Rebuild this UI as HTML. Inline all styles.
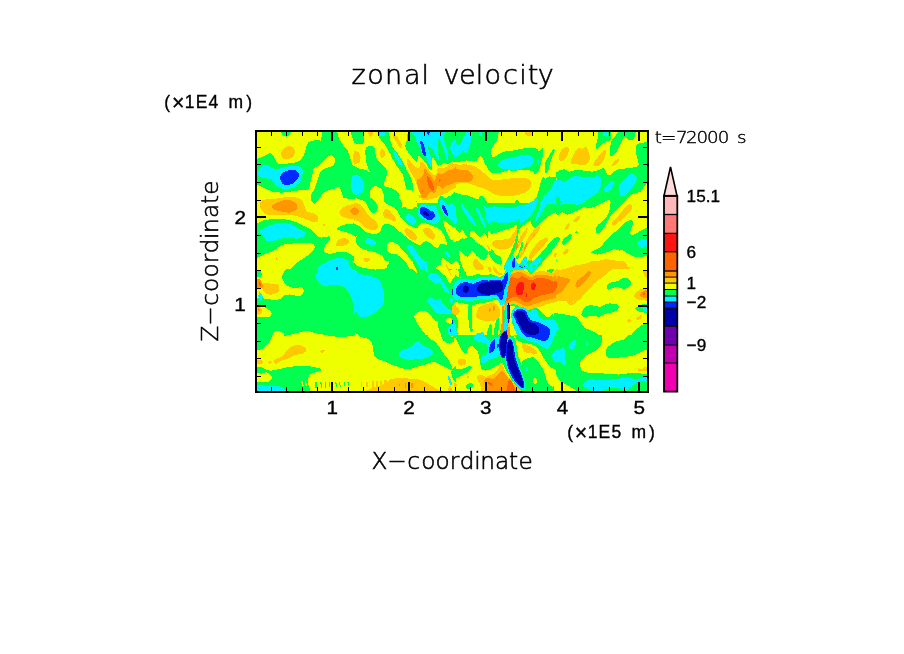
<!DOCTYPE html>
<html><head><meta charset="utf-8"><title>zonal velocity</title>
<style>
html,body{margin:0;padding:0;background:#fff}
svg{display:block}
.thin{font-family:"DejaVu Sans Light","Liberation Sans",sans-serif;fill:#000;stroke:#000}
.reg{font-family:"Liberation Sans",sans-serif;fill:#000;stroke:#000;stroke-width:.35px}
</style></head>
<body>
<svg width="904" height="654" viewBox="0 0 904 654">
<rect width="904" height="654" fill="#fff"/>
<defs><clipPath id="pc"><rect x="256" y="131" width="392" height="261"/></clipPath></defs>
<g clip-path="url(#pc)" shape-rendering="crispEdges">
<rect x="255" y="130" width="394" height="263" fill="#00ff50"/>
<path fill="#f0ff00" d="M251.7 126.7C263.3 121.6 309.8 126.7 321.4 126.7C333.0 126.7 321.3 125.0 321.4 126.7C321.4 128.3 321.7 134.3 321.6 136.6C321.5 138.9 320.9 139.9 320.8 140.5C320.7 141.2 322.6 140.4 320.8 140.5C319.1 140.6 312.7 140.0 310.3 141.1C307.9 142.1 307.5 144.4 306.4 146.6C305.4 148.8 305.4 151.9 304.2 154.3C303.0 156.7 301.6 159.5 299.2 161.0C296.9 162.4 293.9 162.7 290.4 163.2C286.9 163.6 280.9 164.7 278.2 163.7C275.6 162.8 275.6 159.4 274.4 157.7C273.1 155.9 271.9 153.7 270.5 153.2C269.1 152.8 267.7 154.2 266.1 154.9C264.4 155.6 262.9 157.3 260.5 157.7C258.1 158.0 253.2 162.3 251.7 157.1C250.2 151.9 240.1 131.8 251.7 126.7Z M251.7 186.4C253.3 180.2 258.3 186.1 261.6 187.0C265.0 187.8 268.1 190.5 271.6 191.4C275.1 192.3 278.0 192.7 282.7 192.5C287.3 192.3 295.0 190.7 299.2 190.3C303.5 189.8 306.3 190.9 308.1 189.7C309.9 188.5 309.6 185.7 310.3 183.1C311.0 180.5 312.0 176.6 312.5 174.2C313.1 171.9 312.5 170.2 313.6 168.7C314.7 167.2 317.7 166.5 319.2 165.4C320.6 164.3 321.4 163.3 322.5 162.1C323.6 160.9 324.5 159.4 325.8 158.2C327.1 157.1 328.8 155.4 330.2 155.2C331.6 155.0 333.3 156.1 334.1 157.1C334.9 158.2 335.1 160.1 334.9 161.5C334.6 163.0 333.9 164.8 332.4 166.0C330.9 167.1 327.6 167.3 325.8 168.2C324.0 169.0 322.6 169.5 321.4 170.9C320.2 172.3 319.3 174.6 318.6 176.5C317.9 178.3 317.6 180.0 316.9 182.0C316.3 184.0 315.7 186.6 314.7 188.6C313.8 190.7 312.1 192.1 311.4 194.2C310.8 196.2 310.8 199.6 310.9 200.8C311.0 202.0 311.3 201.0 312.0 201.5C312.6 202.0 313.7 203.9 314.7 203.7C315.7 203.6 316.9 201.8 318.1 200.4C319.2 199.0 319.9 196.9 321.4 195.3C322.8 193.7 324.7 191.9 326.9 190.8C329.1 189.7 332.5 189.3 334.6 188.6C336.8 188.0 338.5 186.4 339.6 187.0C340.7 187.5 340.6 190.2 341.3 191.9C341.9 193.7 342.8 196.4 343.5 197.5C344.2 198.5 344.4 197.9 345.7 198.2C347.0 198.5 349.5 199.2 351.2 199.3C353.0 199.4 355.3 198.9 356.1 198.8C356.9 198.7 356.1 194.6 356.1 198.8C356.1 202.9 356.1 219.5 356.1 223.7C356.1 227.8 357.1 223.7 356.1 223.7C355.1 223.7 352.2 223.5 350.1 223.7C348.0 223.8 345.5 224.1 343.5 224.8C341.5 225.4 339.0 226.7 338.0 227.5C337.0 228.4 336.5 229.1 337.4 229.7C338.3 230.4 341.6 230.8 343.5 231.4C345.4 232.0 346.9 232.1 349.0 233.1C351.1 234.0 354.9 236.3 356.1 236.9C357.3 237.6 356.1 233.4 356.1 236.9C356.1 240.4 356.1 254.4 356.1 257.9C356.1 261.4 356.7 258.3 356.1 257.9C355.5 257.6 353.9 256.7 352.3 255.7C350.8 254.8 349.0 253.1 346.8 252.4C344.6 251.8 341.5 251.7 339.1 251.9C336.7 252.0 334.6 253.3 332.4 253.5C330.2 253.7 327.3 253.7 325.8 253.0C324.3 252.2 323.6 250.5 323.6 249.1C323.6 247.7 324.8 246.1 325.8 244.7C326.8 243.2 328.8 241.6 329.3 240.2C329.9 238.9 330.4 236.8 329.1 236.4C327.8 235.9 323.6 237.8 321.4 237.5C319.2 237.2 317.7 236.1 315.8 234.7C314.0 233.3 312.7 230.8 310.3 229.2C307.9 227.5 304.4 226.1 301.5 224.8C298.5 223.4 295.7 221.8 292.6 220.9C289.5 219.9 286.2 219.3 282.7 219.0C279.2 218.7 275.1 218.9 271.6 219.2C268.1 219.5 264.0 220.2 261.6 220.9C259.2 221.6 258.9 223.1 257.2 223.7C255.6 224.2 252.6 224.1 251.7 224.2C250.8 224.3 251.7 230.5 251.7 224.2C251.7 217.9 250.0 192.6 251.7 186.4Z M378.2 126.7C385.2 126.7 378.1 125.0 378.2 126.7C378.3 128.3 377.9 133.9 378.8 136.6C379.7 139.4 382.2 141.1 383.8 143.3C385.3 145.5 386.7 147.3 388.2 149.9C389.7 152.5 391.1 156.0 392.6 158.8C394.1 161.5 395.4 163.9 397.0 166.5C398.7 169.1 401.3 171.7 402.6 174.2C403.9 176.8 404.0 179.4 404.8 182.0C405.5 184.6 405.6 188.3 407.0 189.7C408.4 191.2 411.8 189.9 413.1 190.8C414.4 191.8 414.2 193.6 414.7 195.3C415.3 196.9 416.0 198.8 416.4 200.8C416.8 202.8 416.9 206.3 416.9 207.4C417.0 208.5 419.3 207.4 416.9 207.4C414.6 207.4 405.0 207.4 402.6 207.4C400.2 207.4 402.8 208.5 402.6 207.4C402.4 206.3 402.0 203.0 401.5 200.8C400.9 198.6 400.4 196.0 399.2 194.2C398.1 192.3 396.5 190.8 394.8 189.7C393.2 188.6 391.0 188.1 389.3 187.5C387.6 187.0 385.7 187.3 384.9 186.4C384.0 185.5 384.1 183.5 384.3 182.0C384.5 180.5 385.5 179.2 386.0 177.6C386.4 175.9 387.2 173.7 387.1 172.0C387.0 170.4 386.3 168.9 385.4 167.6C384.5 166.3 382.9 165.6 381.5 164.3C380.2 163.0 378.1 161.5 377.1 159.9C376.1 158.2 375.9 156.4 375.5 154.3C375.0 152.3 375.2 149.1 374.4 147.7C373.5 146.3 371.8 146.1 370.5 146.0C369.2 145.9 367.4 146.5 366.6 147.1C365.8 147.8 365.7 148.5 365.5 149.9C365.3 151.3 365.3 153.2 365.5 155.4C365.7 157.7 366.2 161.0 366.6 163.2C367.1 165.4 367.7 167.1 368.3 168.7C368.8 170.3 370.3 172.4 369.9 172.6C369.6 172.8 367.8 170.7 366.1 170.0C364.3 169.4 361.3 169.3 359.4 168.7C357.6 168.1 356.2 167.2 355.0 166.5C353.8 165.8 353.2 165.8 352.3 164.3C351.5 162.8 350.9 159.9 350.1 157.7C349.4 155.4 349.0 153.0 347.9 151.0C346.8 149.0 345.0 147.5 343.5 145.5C342.0 143.5 340.3 142.0 339.1 138.8C337.9 135.7 336.8 128.7 336.3 126.7C335.8 124.7 329.3 126.7 336.3 126.7C343.3 126.7 371.2 126.7 378.2 126.7Z M408.1 126.7C411.4 126.7 408.3 124.7 408.1 126.7C407.9 128.7 407.5 135.5 407.0 138.8C406.5 142.2 405.1 144.4 405.3 146.6C405.5 148.8 406.7 150.1 408.1 152.1C409.5 154.2 412.2 157.2 413.6 158.8C415.1 160.3 416.1 162.1 416.9 161.5C417.8 161.0 417.9 156.1 418.6 155.4C419.3 154.8 420.2 156.4 421.4 157.7C422.6 158.9 424.2 161.1 425.8 163.2C427.4 165.3 429.7 170.2 430.8 170.4C431.9 170.6 432.2 166.4 432.4 164.3C432.7 162.2 432.1 158.4 432.4 157.7C432.8 156.9 433.7 158.6 434.6 159.9C435.6 161.2 436.7 164.7 438.0 165.4C439.3 166.1 441.3 164.8 442.4 164.3C443.5 163.8 443.7 162.6 444.6 162.6C445.5 162.6 446.6 164.5 447.9 164.3C449.2 164.1 451.0 161.8 452.3 161.5C453.7 161.2 455.5 162.4 456.1 162.6C456.7 162.8 456.1 157.8 456.1 162.6C456.1 167.4 456.1 186.6 456.1 191.4C456.1 196.2 456.3 191.3 456.1 191.4C455.9 191.5 456.2 191.1 455.0 191.9C453.8 192.8 450.9 195.8 449.0 196.4C447.1 196.9 445.2 195.1 443.5 195.3C441.8 195.4 440.0 196.4 439.1 197.5C438.1 198.6 438.1 201.2 438.0 202.0C437.8 202.8 438.0 202.4 438.0 202.5C438.0 202.5 441.5 202.5 438.0 202.5C434.5 202.5 420.4 202.5 416.9 202.5C413.4 202.5 417.0 202.7 416.9 202.5C416.9 202.2 416.8 202.0 416.4 200.8C416.0 199.6 415.3 196.9 414.7 195.3C414.2 193.6 413.4 192.5 413.1 190.8C412.8 189.2 413.5 187.7 413.1 185.3C412.6 182.9 411.3 178.9 410.3 176.5C409.3 174.1 408.1 173.1 407.0 170.9C405.9 168.7 405.0 165.8 403.7 163.2C402.4 160.6 400.9 157.8 399.2 155.4C397.6 153.0 395.2 151.2 393.7 148.8C392.2 146.4 391.3 144.7 390.4 141.1C389.5 137.4 388.6 129.1 388.2 126.7C387.8 124.3 384.9 126.7 388.2 126.7C391.5 126.7 404.8 126.7 408.1 126.7Z M556.1 126.7C565.6 126.7 556.1 118.2 556.1 126.7C556.1 135.2 556.1 169.1 556.1 177.6C556.1 186.0 557.3 177.8 556.1 177.6C554.9 177.4 550.8 176.3 549.0 176.5C547.3 176.6 546.6 178.6 545.7 178.7C544.8 178.8 544.2 176.6 543.5 177.0C542.8 177.4 542.0 178.9 541.3 180.9C540.5 182.8 539.8 186.0 539.1 188.6C538.3 191.2 537.6 194.1 536.9 196.4C536.1 198.6 535.0 201.0 534.6 202.0C534.3 203.0 534.6 202.4 534.6 202.5C534.6 202.5 542.6 202.5 534.6 202.5C526.7 202.5 495.0 202.5 487.1 202.5C479.2 202.5 487.1 202.5 487.1 202.5C487.1 202.4 487.6 202.8 487.1 202.0C486.5 201.2 484.9 198.6 483.8 197.5C482.7 196.4 481.5 194.9 480.4 195.3C479.3 195.6 478.4 199.5 477.1 199.7C475.8 199.9 474.5 197.1 472.7 196.4C470.9 195.6 468.3 195.6 466.1 195.3C463.8 194.9 461.5 194.7 459.4 194.2C457.4 193.6 454.8 192.3 453.9 191.9C453.0 191.6 453.9 196.9 453.9 191.9C453.9 187.0 453.9 167.1 453.9 162.1C453.9 157.1 453.0 162.1 453.9 162.1C454.8 162.1 457.4 162.4 459.4 162.1C461.5 161.8 463.5 160.5 466.1 160.4C468.6 160.3 472.9 161.8 474.9 161.5C476.9 161.2 477.2 159.7 478.2 158.8C479.2 157.8 480.1 155.6 481.0 156.0C481.9 156.4 482.7 159.0 483.8 161.0C484.8 162.9 485.8 165.7 487.1 167.6C488.4 169.5 489.8 171.7 491.5 172.6C493.2 173.5 495.2 173.2 497.0 173.1C498.9 173.0 500.7 172.5 502.6 172.0C504.4 171.6 506.1 170.6 508.1 170.4C510.1 170.2 512.5 171.0 514.7 170.9C516.9 170.8 518.4 169.8 521.4 169.8C524.3 169.8 530.2 170.3 532.4 170.9C534.6 171.6 533.7 173.5 534.6 173.7C535.6 173.9 537.0 173.2 538.0 172.0C538.9 170.8 539.4 168.9 540.2 166.5C540.9 164.1 541.8 160.4 542.4 157.7C542.9 154.9 543.5 151.6 543.5 149.9C543.5 148.3 543.1 147.4 542.4 147.7C541.7 148.0 540.0 151.4 539.1 151.6C538.1 151.8 538.3 149.5 536.9 148.8C535.4 148.2 532.8 147.7 530.2 147.7C527.6 147.7 524.3 148.3 521.4 148.8C518.4 149.3 515.3 150.0 512.5 150.5C509.8 150.9 507.0 151.0 504.8 151.6C502.6 152.1 500.7 153.0 499.2 153.8C497.8 154.5 497.1 155.5 495.9 156.0C494.7 156.5 492.9 157.5 492.1 156.5C491.2 155.6 490.7 152.3 491.0 150.5C491.2 148.6 492.6 147.4 493.7 145.5C494.8 143.6 496.7 142.0 497.6 138.8C498.5 135.7 499.0 128.7 499.2 126.7C499.5 124.7 489.8 126.7 499.2 126.7C508.7 126.7 546.6 126.7 556.1 126.7Z M650.1 126.7C666.2 126.7 650.1 124.1 650.1 126.7C650.1 129.3 650.1 139.6 650.1 142.2C650.1 144.7 651.4 142.1 650.1 142.2C648.8 142.3 644.6 142.4 642.4 142.7C640.2 143.1 638.0 143.2 636.9 144.4C635.8 145.6 635.7 147.5 635.8 149.9C635.8 152.3 637.0 156.2 637.4 158.8C637.9 161.3 639.3 163.9 638.5 165.4C637.7 166.9 634.9 167.1 632.4 167.6C629.9 168.2 626.2 168.3 623.6 168.7C621.0 169.1 618.8 169.1 616.9 169.8C615.1 170.6 613.8 172.2 612.5 173.1C611.2 174.1 610.1 175.2 609.2 175.4C608.3 175.5 607.9 175.4 607.0 174.2C606.1 173.0 605.0 168.9 603.7 168.2C602.4 167.4 601.1 169.3 599.2 169.8C597.4 170.4 594.8 171.3 592.6 171.5C590.4 171.7 588.6 171.2 586.0 170.9C583.4 170.7 579.9 169.7 577.1 169.8C574.4 169.9 571.4 171.6 569.4 171.5C567.4 171.4 566.8 169.4 565.0 169.3C563.1 169.2 560.2 169.9 558.3 170.9C556.5 171.9 554.6 174.6 553.9 175.4C553.2 176.1 553.9 183.5 553.9 175.4C553.9 167.2 553.9 134.8 553.9 126.7C553.9 118.6 537.9 126.7 553.9 126.7C569.9 126.7 634.1 126.7 650.1 126.7Z M650.1 204.1C650.1 207.8 654.6 204.1 650.1 204.1C645.7 204.1 628.0 204.1 623.6 204.1C619.2 204.1 623.0 205.0 623.6 204.1C624.1 203.2 625.4 200.2 626.9 198.6C628.4 196.9 630.2 195.3 632.4 194.2C634.6 193.1 638.3 193.1 640.2 191.9C642.0 190.8 642.3 189.0 643.5 187.5C644.7 186.0 646.3 184.0 647.4 183.1C648.5 182.2 649.7 182.2 650.1 182.0C650.6 181.8 650.1 178.3 650.1 182.0C650.1 185.7 650.1 200.4 650.1 204.1Z M606.4 203.0C606.1 202.5 607.9 200.2 608.7 200.2C609.4 200.2 611.2 202.5 610.9 203.0C610.5 203.5 606.8 203.5 606.4 203.0Z M353.9 199.9C355.0 196.1 358.7 199.6 360.5 199.9C362.4 200.1 363.8 200.5 365.0 201.5C366.2 202.5 367.0 204.5 367.7 206.0C368.5 207.4 368.4 209.2 369.4 210.4C370.4 211.6 372.5 213.1 373.8 213.1C375.1 213.1 376.5 211.6 377.1 210.4C377.8 209.2 378.0 207.4 377.7 206.0C377.3 204.5 375.9 202.8 374.9 201.5C373.9 200.2 372.4 199.1 371.6 198.2C370.8 197.4 370.1 197.8 369.9 196.4C369.7 195.0 369.7 191.4 370.5 189.7C371.2 188.1 372.9 186.8 374.4 186.4C375.8 186.0 377.9 186.6 379.3 187.5C380.8 188.4 382.5 190.1 383.2 191.9C383.9 193.8 383.6 197.2 383.8 198.6C383.9 200.0 383.6 199.6 384.0 200.4C384.4 201.3 384.7 202.8 386.0 203.7C387.2 204.7 389.7 204.8 391.5 206.0C393.3 207.1 395.7 208.9 397.0 210.4C398.3 211.9 398.3 213.3 399.2 214.8C400.2 216.3 401.3 217.8 402.6 219.2C403.9 220.7 405.3 222.4 407.0 223.7C408.7 224.9 410.9 226.2 412.5 227.0C414.2 227.7 415.8 228.4 416.9 228.1C418.1 227.8 418.4 226.1 419.2 225.3C419.9 224.5 420.1 223.4 421.4 223.1C422.7 222.8 425.1 223.2 426.9 223.7C428.7 224.1 430.6 225.1 432.4 225.9C434.3 226.6 436.3 227.0 438.0 228.1C439.6 229.2 441.1 230.7 442.4 232.5C443.7 234.3 444.9 236.9 445.7 239.1C446.5 241.4 447.7 245.0 447.4 245.8C447.0 246.5 444.7 243.8 443.5 243.6C442.3 243.4 441.3 243.9 440.2 244.7C439.1 245.4 438.1 248.0 436.9 248.0C435.6 248.0 434.1 245.8 432.4 244.7C430.8 243.6 428.6 241.7 426.9 241.4C425.2 241.0 423.6 241.8 422.5 242.5C421.4 243.1 421.4 245.0 420.3 245.2C419.2 245.4 417.5 244.4 415.8 243.6C414.2 242.7 412.2 241.5 410.3 240.2C408.5 239.0 406.6 237.3 404.8 235.8C402.9 234.3 400.9 232.9 399.2 231.4C397.6 229.9 396.5 228.2 394.8 227.0C393.2 225.8 391.1 224.7 389.3 224.2C387.4 223.7 385.1 223.6 383.8 224.2C382.5 224.9 382.4 226.6 381.5 228.1C380.7 229.6 380.4 232.1 378.8 233.1C377.1 234.0 373.9 233.9 371.6 233.6C369.3 233.3 366.8 232.5 365.0 231.4C363.1 230.3 362.4 228.4 360.5 227.0C358.7 225.5 355.0 223.3 353.9 222.5C352.8 221.8 353.9 226.3 353.9 222.5C353.9 218.8 352.8 203.7 353.9 199.9Z M439.6 194.9C445.9 195.3 439.5 196.1 439.1 197.1C438.6 198.1 438.3 200.2 436.9 201.0C435.4 201.7 432.4 201.5 430.2 201.5C428.0 201.5 425.6 201.2 423.6 201.0C421.6 200.8 419.3 200.1 418.1 200.4C416.8 200.7 416.4 201.5 415.8 202.6C415.3 203.7 415.7 206.0 414.7 207.1C413.8 208.2 412.0 209.3 410.3 209.3C408.7 209.3 406.2 208.2 404.8 207.1C403.4 206.0 402.6 204.7 402.0 202.6C401.5 200.6 395.2 196.2 401.5 194.9C407.7 193.6 433.4 194.5 439.6 194.9Z M447.9 194.9C448.7 195.4 447.6 197.3 446.8 197.7C446.1 198.0 444.2 197.6 443.5 197.1C442.8 196.6 441.7 195.3 442.4 194.9C443.1 194.5 447.2 194.4 447.9 194.9Z M443.5 219.8C444.0 219.8 445.5 221.5 446.8 222.5C448.1 223.6 449.7 224.9 451.2 225.9C452.8 226.8 455.3 227.7 456.1 228.1C456.9 228.4 456.1 226.1 456.1 228.1C456.1 230.1 456.1 238.2 456.1 240.2C456.1 242.3 456.7 240.2 456.1 240.2C455.5 240.2 453.5 240.8 452.3 240.2C451.2 239.7 449.9 238.2 449.0 236.9C448.1 235.6 447.6 234.2 446.8 232.5C446.1 230.8 445.2 228.6 444.6 227.0C444.0 225.3 443.7 223.7 443.5 222.5C443.3 221.4 442.9 219.8 443.5 219.8Z M389.3 242.5C390.4 242.1 392.2 242.1 393.7 242.5C395.2 242.8 396.9 243.6 398.1 244.7C399.4 245.8 400.2 247.6 401.5 249.1C402.8 250.6 404.4 251.9 405.9 253.5C407.4 255.2 409.0 257.2 410.3 259.1C411.6 260.9 412.8 262.9 413.6 264.6C414.5 266.2 415.0 268.3 415.3 269.0C415.6 269.7 416.3 269.0 415.3 269.0C414.3 269.0 410.2 269.0 409.2 269.0C408.2 269.0 409.8 270.1 409.2 269.0C408.7 267.9 407.2 264.2 405.9 262.4C404.6 260.5 402.9 259.2 401.5 257.9C400.0 256.7 398.7 255.4 397.0 254.6C395.4 253.9 393.1 254.1 391.5 253.5C389.9 253.0 388.4 252.8 387.6 251.3C386.9 249.8 386.8 246.1 387.1 244.7C387.4 243.2 388.2 242.8 389.3 242.5Z M353.9 238.0C354.3 234.9 355.2 241.0 356.1 242.5C357.0 243.9 357.9 245.6 359.4 246.9C360.9 248.2 362.9 249.5 365.0 250.2C367.0 250.9 369.4 250.8 371.6 251.3C373.8 251.9 376.4 252.7 378.2 253.5C380.1 254.4 381.5 255.0 382.7 256.3C383.8 257.6 384.2 259.7 384.9 261.3C385.5 262.8 386.2 264.6 386.5 265.7C386.9 266.8 387.5 267.3 386.9 267.9C386.2 268.5 384.6 268.8 382.7 269.0C380.7 269.3 377.7 269.6 374.9 269.5C372.1 269.3 368.6 268.8 366.1 268.3C363.5 267.9 361.3 267.3 359.4 266.6C357.6 265.8 355.9 264.6 355.0 263.7C354.1 262.8 354.1 261.7 353.9 261.3C353.7 260.9 353.9 265.1 353.9 261.3C353.9 257.4 353.5 241.2 353.9 238.0Z M436.9 269.0C433.8 268.5 437.3 267.0 438.0 266.2C438.6 265.5 440.2 265.6 440.7 264.6C441.3 263.6 440.9 261.4 441.3 260.2C441.7 259.0 442.2 257.4 442.9 257.4C443.7 257.4 444.7 259.3 445.7 260.2C446.7 261.0 447.9 261.8 449.0 262.4C450.1 262.9 451.2 263.8 452.3 263.5C453.5 263.1 455.5 260.7 456.1 260.2C456.7 259.6 456.1 258.7 456.1 260.2C456.1 261.6 456.1 267.5 456.1 269.0C456.1 270.5 459.3 269.0 456.1 269.0C452.9 269.0 439.9 269.5 436.9 269.0Z M253.9 257.9C254.4 256.1 255.2 258.7 257.2 257.9C259.2 257.2 263.1 254.8 266.1 253.5C269.0 252.2 272.1 251.7 274.9 250.2C277.7 248.7 279.9 245.8 282.7 244.7C285.4 243.6 288.0 243.8 291.5 243.6C295.0 243.3 300.2 243.0 303.7 243.0C307.2 243.0 310.7 242.8 312.5 243.6C314.4 244.3 315.1 245.8 314.7 247.4C314.4 249.1 312.3 251.6 310.3 253.5C308.3 255.5 305.0 257.4 302.6 259.1C300.2 260.7 298.0 261.8 295.9 263.5C293.9 265.1 291.3 268.1 290.4 269.0C289.5 269.9 296.5 269.0 290.4 269.0C284.3 269.0 260.0 269.0 253.9 269.0C247.8 269.0 253.9 270.9 253.9 269.0C253.9 267.2 253.3 259.8 253.9 257.9Z M525.8 194.9C534.5 195.4 525.1 197.5 523.6 198.2C522.1 198.9 518.4 198.8 516.9 199.3C515.5 199.9 516.6 201.3 514.7 201.5C512.9 201.8 508.8 201.0 505.9 201.0C502.9 201.0 500.0 201.6 497.0 201.5C494.1 201.4 490.4 201.2 488.2 200.4C486.0 199.7 485.1 197.8 483.8 197.1C482.4 196.4 480.7 195.6 479.9 196.0C479.1 196.4 479.6 198.9 478.8 199.3C478.0 199.7 476.1 198.9 474.9 198.2C473.7 197.5 463.1 195.4 471.6 194.9C480.1 194.3 517.1 194.3 525.8 194.9Z M453.9 228.1C454.8 226.2 458.0 232.3 459.4 232.5C460.8 232.7 461.3 229.0 462.2 229.2C463.1 229.4 463.9 231.8 465.0 233.6C466.0 235.5 467.6 238.4 468.3 240.2C468.9 242.1 469.2 244.3 468.8 244.7C468.5 245.0 467.1 243.6 466.1 242.5C465.0 241.4 463.8 238.4 462.7 238.0C461.6 237.7 460.9 239.3 459.4 240.2C457.9 241.2 454.8 245.6 453.9 243.6C453.0 241.5 453.0 229.9 453.9 228.1Z M470.5 232.5C470.9 231.3 471.6 230.5 472.7 230.8C473.8 231.2 475.8 233.7 477.1 234.7C478.4 235.7 479.2 237.2 480.4 236.9C481.7 236.7 483.6 232.7 484.9 233.1C486.2 233.4 487.5 239.6 488.2 239.1C488.8 238.7 488.2 231.2 488.7 230.3C489.3 229.4 490.1 233.2 491.5 233.6C492.9 234.0 495.0 233.1 497.0 232.5C499.1 232.0 501.5 231.0 503.7 230.3C505.9 229.6 508.5 228.8 510.3 228.1C512.2 227.3 513.5 226.5 514.7 225.9C515.9 225.2 516.9 223.7 517.5 224.2C518.1 224.8 518.0 228.7 518.6 229.2C519.3 229.6 520.2 227.9 521.4 227.0C522.6 226.1 524.3 224.7 525.8 223.7C527.3 222.6 529.2 220.7 530.2 220.9C531.2 221.1 531.1 223.6 531.9 224.8C532.6 226.0 533.4 228.1 534.6 228.1C535.8 228.1 537.6 226.1 539.1 224.8C540.5 223.5 541.8 221.8 543.5 220.3C545.2 218.9 547.1 217.2 549.0 215.9C550.9 214.6 553.8 213.1 555.0 212.6C556.2 212.0 555.9 212.6 556.1 212.6C556.3 212.6 556.1 206.5 556.1 212.6C556.1 218.7 556.1 243.0 556.1 249.1C556.1 255.2 556.7 248.9 556.1 249.1C555.5 249.3 553.5 249.3 552.3 250.2C551.2 251.1 549.9 253.0 549.0 254.6C548.1 256.3 547.6 258.5 546.8 260.2C546.1 261.8 545.3 263.1 544.6 264.6C543.9 266.1 542.8 268.3 542.4 269.0C542.0 269.7 557.1 269.0 542.4 269.0C527.6 269.0 468.6 269.0 453.9 269.0C439.1 269.0 453.9 270.3 453.9 269.0C453.9 267.7 453.9 262.6 453.9 261.3C453.9 260.0 452.8 261.6 453.9 261.3C455.0 260.9 458.5 259.6 460.5 259.1C462.6 258.5 464.6 259.2 466.1 257.9C467.5 256.7 468.7 253.5 469.4 251.3C470.0 249.1 469.7 246.9 469.9 244.7C470.1 242.5 470.4 240.1 470.5 238.0C470.6 236.0 470.1 233.7 470.5 232.5Z M553.9 219.2C554.6 210.2 556.8 216.0 558.3 214.8C559.8 213.6 561.3 212.0 562.7 212.0C564.2 212.0 565.5 214.7 567.2 214.8C568.8 214.9 570.7 213.4 572.7 212.6C574.7 211.8 577.5 210.7 579.3 209.8C581.2 208.9 582.1 207.3 583.8 207.1C585.4 206.8 587.3 208.4 589.3 208.2C591.3 208.0 593.7 206.9 595.9 206.0C598.1 205.0 600.5 203.7 602.6 202.6C604.6 201.6 606.8 200.1 608.1 199.9C609.4 199.7 610.0 200.0 610.3 201.5C610.6 203.1 610.3 206.9 609.8 209.3C609.2 211.7 608.2 213.9 607.0 215.9C605.8 217.9 604.0 220.0 602.6 221.4C601.1 222.9 599.2 223.5 598.1 224.8C597.0 226.1 596.2 227.8 595.9 229.2C595.7 230.6 595.7 232.5 596.5 233.1C597.2 233.6 599.2 233.3 600.4 232.5C601.6 231.7 602.4 230.1 603.7 228.1C605.0 226.1 606.6 222.7 608.1 220.3C609.6 217.9 610.9 215.7 612.5 213.7C614.2 211.7 616.2 210.0 618.1 208.2C619.9 206.3 621.7 204.4 623.6 202.6C625.4 200.9 627.8 198.9 629.1 197.7C630.4 196.4 631.0 195.4 631.3 194.9C631.7 194.4 628.2 194.9 631.3 194.9C634.5 194.9 647.0 194.9 650.1 194.9C653.3 194.9 650.1 189.5 650.1 194.9C650.1 200.2 650.1 221.6 650.1 227.0C650.1 232.3 650.7 226.9 650.1 227.0C649.6 227.1 648.3 227.0 646.8 227.5C645.3 228.1 643.3 229.2 641.3 230.3C639.3 231.4 636.3 233.4 634.6 234.2C633.0 234.9 632.1 235.2 631.3 234.7C630.6 234.3 630.0 232.9 630.2 231.4C630.4 229.9 632.0 227.4 632.4 225.9C632.9 224.3 633.2 223.0 633.0 222.0C632.8 221.0 632.3 219.9 631.3 219.8C630.3 219.7 628.6 220.4 626.9 221.4C625.2 222.5 623.2 224.2 621.4 225.9C619.5 227.5 617.7 229.7 615.8 231.4C614.0 233.1 612.0 234.3 610.3 235.8C608.7 237.3 607.2 238.8 605.9 240.2C604.6 241.7 603.7 243.4 602.6 244.7C601.5 246.0 600.5 247.1 599.2 248.0C598.0 248.9 596.2 249.5 594.8 250.2C593.4 250.9 591.2 252.0 591.0 252.4C590.7 252.9 592.1 252.6 593.2 253.0C594.2 253.3 595.5 254.5 597.0 254.6C598.6 254.7 600.5 254.1 602.6 253.5C604.6 253.0 607.2 252.0 609.2 251.3C611.2 250.6 613.1 249.2 614.7 249.1C616.4 249.0 617.9 250.6 619.2 250.8C620.4 250.9 621.0 249.7 622.5 250.2C624.0 250.7 626.2 252.5 628.0 253.5C629.9 254.5 631.7 255.6 633.5 256.3C635.4 256.9 637.2 257.4 639.1 257.4C640.9 257.4 642.8 256.6 644.6 256.3C646.4 256.0 649.2 255.8 650.1 255.7C651.1 255.6 650.1 253.5 650.1 255.7C650.1 257.9 650.1 266.8 650.1 269.0C650.1 271.2 666.2 269.0 650.1 269.0C634.1 269.0 569.9 269.0 553.9 269.0C537.9 269.0 553.9 277.3 553.9 269.0C553.9 260.7 553.2 228.3 553.9 219.2Z M253.9 260.9C253.9 254.6 246.7 260.9 253.9 260.9C261.1 260.9 289.8 260.9 297.0 260.9C304.2 260.9 298.0 260.0 297.0 260.9C296.1 261.8 293.3 264.9 291.5 266.4C289.7 267.9 287.4 268.5 286.0 269.7C284.5 271.0 283.3 272.7 282.7 274.2C282.0 275.6 281.7 277.1 282.1 278.6C282.5 280.1 283.7 281.6 284.9 283.0C286.1 284.4 287.4 286.1 289.3 286.9C291.1 287.7 293.9 287.9 295.9 288.0C298.0 288.1 300.2 286.9 301.5 287.2C302.8 287.6 303.5 289.1 303.7 290.2C303.9 291.4 303.5 293.1 302.6 294.1C301.6 295.1 300.0 296.2 298.1 296.3C296.3 296.4 293.7 294.8 291.5 294.6C289.3 294.4 286.7 294.4 284.9 295.2C283.0 295.9 282.7 298.3 280.4 299.1C278.2 299.8 274.4 299.7 271.6 299.6C268.8 299.5 266.8 298.7 263.8 298.5C260.9 298.3 255.6 298.5 253.9 298.5C252.2 298.5 253.9 304.8 253.9 298.5C253.9 292.2 253.9 267.2 253.9 260.9Z M256.1 307.4C257.0 305.6 259.8 306.1 261.6 306.2C263.5 306.4 265.5 307.4 267.2 308.5C268.8 309.6 271.2 311.5 271.6 312.9C272.0 314.3 270.7 316.1 269.4 316.8C268.1 317.4 266.1 316.8 263.8 316.8C261.6 316.8 257.4 318.3 256.1 316.8C254.8 315.2 255.2 309.1 256.1 307.4Z M273.8 335.0C272.4 334.5 274.7 332.3 275.5 331.7C276.2 331.0 277.0 331.0 278.2 331.1C279.4 331.3 281.7 332.2 282.7 332.8C283.6 333.4 285.2 334.6 283.8 335.0C282.3 335.4 275.2 335.6 273.8 335.0Z M298.1 335.0C295.9 334.5 300.0 332.9 301.5 332.2C302.9 331.6 305.1 331.1 307.0 331.1C308.8 331.1 311.2 331.6 312.5 332.2C313.8 332.9 317.1 334.5 314.7 335.0C312.3 335.5 300.4 335.5 298.1 335.0Z M387.1 260.9C392.5 261.8 387.3 265.1 386.5 266.4C385.8 267.7 384.6 268.2 382.7 268.6C380.7 269.1 377.7 269.3 374.9 269.2C372.1 269.1 368.6 268.5 366.1 268.1C363.5 267.6 361.3 267.2 359.4 266.4C357.6 265.7 355.9 264.6 355.0 263.7C354.1 262.7 348.5 261.4 353.9 260.9C359.2 260.4 381.6 260.0 387.1 260.9Z M412.5 260.9C413.6 261.4 413.0 262.7 413.6 264.2C414.3 265.7 415.8 268.4 416.4 269.7C416.9 271.1 417.2 272.2 416.9 272.5C416.7 272.8 415.8 272.6 414.7 271.4C413.6 270.2 411.6 267.1 410.3 265.3C409.0 263.6 406.6 261.6 407.0 260.9C407.4 260.2 411.4 260.3 412.5 260.9Z M436.9 266.4C437.2 265.8 439.1 266.4 440.2 265.9C441.3 265.3 443.1 263.9 443.5 263.1C443.9 262.3 442.6 261.3 442.4 260.9C442.2 260.5 440.1 260.9 442.4 260.9C444.7 260.9 453.8 260.9 456.1 260.9C458.4 260.9 456.1 258.9 456.1 260.9C456.1 262.9 456.7 269.9 456.1 273.1C455.5 276.2 453.3 278.0 452.3 279.7C451.3 281.4 450.9 282.8 450.1 283.0C449.4 283.2 448.7 281.9 447.9 280.8C447.2 279.7 446.8 277.7 445.7 276.4C444.6 275.1 442.6 274.2 441.3 273.1C440.0 272.0 438.7 270.8 438.0 269.7C437.2 268.6 436.5 267.1 436.9 266.4Z M414.2 317.3C414.0 315.7 414.6 313.9 415.8 312.9C417.0 311.9 419.5 311.4 421.4 311.2C423.2 311.0 425.2 310.9 426.9 311.8C428.6 312.6 430.0 314.7 431.3 316.2C432.6 317.7 433.5 319.7 434.6 320.6C435.8 321.6 437.3 320.4 438.0 321.7C438.6 323.0 438.1 326.2 438.5 328.4C438.9 330.6 439.9 333.9 440.2 335.0C440.5 336.1 442.6 335.0 440.2 335.0C437.8 335.0 428.2 335.0 425.8 335.0C423.4 335.0 426.5 335.9 425.8 335.0C425.1 334.1 422.8 331.5 421.4 329.5C419.9 327.4 418.1 324.9 416.9 322.8C415.7 320.8 414.4 319.0 414.2 317.3Z M445.7 319.5C446.2 318.8 448.0 317.9 449.0 317.9C450.0 317.9 451.4 318.5 451.8 319.5C452.2 320.5 451.8 323.3 451.2 323.9C450.7 324.6 449.3 323.7 448.5 323.4C447.6 323.1 446.7 322.9 446.3 322.3C445.8 321.6 445.2 320.3 445.7 319.5Z M453.9 260.9C460.5 259.1 486.7 260.0 493.7 260.9C500.7 261.8 494.6 265.3 495.9 266.4C497.2 267.5 499.9 267.5 501.5 267.5C503.0 267.5 504.6 265.7 505.3 266.4C506.1 267.2 506.2 270.3 505.9 272.0C505.6 273.6 504.8 275.9 503.7 276.4C502.6 276.8 501.1 275.2 499.2 274.7C497.4 274.3 494.8 273.5 492.6 273.6C490.4 273.7 488.6 275.2 486.0 275.3C483.4 275.4 479.5 274.1 477.1 274.2C474.7 274.3 473.8 275.5 471.6 275.8C469.4 276.2 465.7 276.1 463.8 276.4C462.0 276.7 461.0 278.2 460.5 277.5C460.1 276.7 461.2 273.8 461.1 272.0C461.0 270.1 460.4 267.0 460.0 266.4C459.5 265.9 458.5 266.8 458.3 268.6C458.1 270.5 459.6 276.9 458.9 277.5C458.1 278.0 454.7 274.7 453.9 272.0C453.1 269.2 447.3 262.7 453.9 260.9Z M453.9 305.1C454.8 299.8 457.4 303.1 459.4 302.9C461.5 302.7 463.8 303.7 466.1 304.0C468.3 304.4 470.5 305.2 472.7 305.1C474.9 305.0 476.9 303.9 479.3 303.5C481.7 303.0 484.7 302.9 487.1 302.4C489.5 301.8 491.9 300.4 493.7 300.2C495.6 299.9 496.9 299.9 498.1 300.7C499.4 301.5 500.7 303.3 501.5 305.1C502.2 307.0 502.5 309.4 502.6 311.8C502.7 314.2 502.3 316.8 502.0 319.5C501.7 322.3 501.4 325.8 500.9 328.4C500.4 331.0 499.5 333.9 499.2 335.0C499.0 336.1 506.8 335.0 499.2 335.0C491.7 335.0 461.5 335.0 453.9 335.0C446.3 335.0 453.9 340.0 453.9 335.0C453.9 330.0 453.0 310.5 453.9 305.1Z M536.9 260.9C537.2 259.4 533.7 260.9 536.9 260.9C540.1 260.9 552.9 260.9 556.1 260.9C559.3 260.9 556.1 258.3 556.1 260.9C556.1 263.5 557.7 274.2 556.1 276.4C554.6 278.6 549.7 274.9 546.8 274.2C544.0 273.4 541.1 272.7 539.1 272.0C537.0 271.2 535.0 271.6 534.6 269.7C534.3 267.9 536.5 262.4 536.9 260.9Z M514.7 268.6C515.1 267.5 515.8 266.2 516.9 266.4C518.1 266.6 519.7 269.6 521.4 269.7C523.0 269.9 525.1 267.3 526.9 267.5C528.7 267.7 530.4 270.3 532.4 270.8C534.5 271.4 538.0 270.5 539.1 270.8C540.2 271.2 543.1 272.7 539.1 273.1C535.0 273.4 518.8 273.8 514.7 273.1C510.7 272.3 514.4 269.7 514.7 268.6Z M532.4 306.2C535.5 304.8 552.2 300.7 556.1 299.6C560.1 298.5 556.1 297.6 556.1 299.6C556.1 301.6 556.1 309.8 556.1 311.8C556.1 313.8 556.7 311.4 556.1 311.8C555.5 312.1 553.5 313.1 552.3 314.0C551.2 314.9 550.1 316.9 549.0 317.3C547.9 317.7 547.0 317.1 545.7 316.2C544.4 315.3 542.6 313.1 541.3 311.8C540.0 310.5 539.4 309.4 538.0 308.5C536.5 307.5 529.4 307.7 532.4 306.2Z M508.1 306.2C508.5 305.0 511.0 306.1 512.5 306.2C514.0 306.4 516.6 306.6 516.9 307.4C517.3 308.1 515.6 309.4 514.7 310.7C513.9 312.0 512.3 312.9 512.0 315.1C511.6 317.3 511.9 321.4 512.5 323.9C513.2 326.5 514.9 328.7 515.8 330.6C516.8 332.4 519.0 334.3 518.1 335.0C517.1 335.7 511.7 336.9 510.3 335.0C508.9 333.2 509.8 327.4 509.8 323.9C509.8 320.4 510.6 316.9 510.3 314.0C510.0 311.0 507.7 307.5 508.1 306.2Z M553.9 260.9C553.9 252.2 537.9 260.9 553.9 260.9C569.9 260.9 634.1 260.9 650.1 260.9C666.2 260.9 650.1 250.4 650.1 260.9C650.1 271.4 650.1 313.4 650.1 323.9C650.1 334.5 651.2 323.9 650.1 323.9C649.0 323.9 645.3 323.4 643.5 323.9C641.7 324.5 640.5 326.2 639.1 327.3C637.6 328.4 635.9 329.3 634.6 330.6C633.4 331.9 631.9 334.3 631.3 335.0C630.8 335.7 636.7 335.0 631.3 335.0C626.0 335.0 604.6 335.0 599.2 335.0C593.9 335.0 600.2 335.6 599.2 335.0C598.3 334.5 595.7 332.8 593.7 331.7C591.7 330.6 588.9 329.5 587.1 328.4C585.2 327.3 583.9 326.3 582.7 325.1C581.4 323.8 580.3 321.9 579.3 320.6C578.4 319.3 578.0 318.0 577.1 317.3C576.2 316.6 575.3 316.6 573.8 316.2C572.3 315.8 570.3 315.5 568.3 315.1C566.2 314.7 564.0 314.4 561.6 314.0C559.2 313.6 555.2 313.1 553.9 312.9C552.6 312.7 553.9 321.6 553.9 312.9C553.9 304.2 553.9 269.6 553.9 260.9Z M256.1 351.2C256.8 348.5 258.9 351.0 260.5 350.1C262.2 349.2 264.4 347.4 266.1 345.7C267.7 344.0 269.4 342.0 270.5 340.2C271.6 338.3 271.9 336.1 272.7 334.6C273.5 333.2 274.2 331.7 275.5 331.3C276.8 330.9 278.9 331.7 280.4 332.4C282.0 333.2 282.8 335.5 284.9 335.7C286.9 336.0 289.8 334.7 292.6 334.1C295.4 333.4 299.1 332.3 301.5 331.9C303.9 331.4 304.8 331.1 307.0 331.3C309.2 331.5 312.0 332.4 314.7 333.0C317.5 333.5 320.6 334.1 323.6 334.6C326.5 335.2 329.5 335.9 332.4 336.3C335.4 336.7 338.3 336.8 341.3 336.8C344.2 336.8 347.7 336.5 350.1 336.3C352.6 336.1 355.1 335.8 356.1 335.7C357.1 335.7 356.1 326.2 356.1 335.7C356.1 345.3 356.1 383.7 356.1 393.3C356.1 402.9 363.7 393.3 356.1 393.3C348.5 393.3 317.9 393.3 310.3 393.3C302.7 393.3 310.5 394.6 310.3 393.3C310.1 392.0 309.6 387.9 309.2 385.5C308.8 383.1 307.9 380.7 308.1 378.9C308.3 377.0 308.8 375.7 310.3 374.5C311.8 373.3 315.1 372.3 316.9 371.7C318.8 371.0 320.8 371.1 321.4 370.6C321.9 370.0 321.4 368.9 320.3 368.4C319.2 367.8 316.8 367.6 314.7 367.3C312.7 366.9 310.7 366.3 308.1 366.2C305.5 366.0 302.2 366.1 299.2 366.2C296.3 366.3 293.2 366.3 290.4 366.7C287.6 367.1 285.2 367.8 282.7 368.4C280.1 368.9 277.1 369.7 274.9 370.0C272.7 370.4 271.0 370.8 269.4 370.6C267.7 370.4 266.4 369.6 265.0 368.9C263.5 368.3 262.0 367.1 260.5 366.7C259.1 366.3 256.8 366.7 256.1 366.7C255.4 366.7 256.1 369.3 256.1 366.7C256.1 364.1 255.4 354.0 256.1 351.2Z M301.2 381.1L302.8 381.1L303.7 385.5L302.1 385.5Z M304.8 381.1L306.1 381.1L307.0 386.1L305.7 386.1Z M307.9 381.7L309.2 381.7L310.1 386.6L308.8 386.6Z M256.1 373.4C257.0 372.2 260.1 374.1 261.6 373.9C263.2 373.7 264.2 372.2 265.5 372.2C266.8 372.2 268.3 373.1 269.4 373.9C270.5 374.7 272.0 376.1 272.1 377.2C272.3 378.3 271.5 379.7 270.5 380.5C269.5 381.4 267.7 382.0 266.1 382.2C264.4 382.4 262.2 381.8 260.5 381.7C258.9 381.5 256.8 382.5 256.1 381.1C255.4 379.7 255.2 374.6 256.1 373.4Z M353.9 336.8C355.2 327.5 359.4 337.1 361.6 337.4C363.8 337.7 365.5 337.7 367.2 338.5C368.8 339.3 370.6 340.8 371.6 342.4C372.6 343.9 372.9 345.9 373.3 347.9C373.6 349.9 373.2 352.8 373.8 354.5C374.5 356.3 375.5 357.3 377.1 358.4C378.8 359.5 381.4 360.2 383.8 361.2C386.2 362.2 388.9 363.5 391.5 364.5C394.1 365.5 397.0 366.5 399.2 367.3C401.5 368.0 402.6 368.7 404.8 368.9C407.0 369.1 410.1 368.8 412.5 368.4C414.9 367.9 416.9 366.8 419.2 366.2C421.4 365.5 423.8 365.1 425.8 364.5C427.8 363.9 429.5 362.6 431.3 362.3C433.2 362.0 435.0 362.3 436.9 362.8C438.7 363.4 440.4 364.6 442.4 365.6C444.4 366.6 447.4 368.2 449.0 368.9C450.7 369.7 452.0 370.6 452.3 370.0C452.7 369.5 452.0 367.5 451.2 365.6C450.5 363.8 449.2 361.0 447.9 359.0C446.6 356.9 445.0 355.5 443.5 353.4C442.0 351.4 440.5 348.8 439.1 346.8C437.6 344.8 436.1 342.6 434.6 341.3C433.2 340.0 431.5 340.2 430.2 339.1C428.9 338.0 428.2 335.9 426.9 334.6C425.6 333.3 423.6 332.6 422.5 331.3C421.4 330.0 420.6 327.6 420.3 326.9C419.9 326.2 417.3 326.9 420.3 326.9C423.2 326.9 435.0 326.9 438.0 326.9C440.9 326.9 437.6 326.0 438.0 326.9C438.3 327.8 439.4 330.4 440.2 332.4C440.9 334.5 441.5 337.4 442.4 339.1C443.3 340.7 444.4 341.6 445.7 342.4C447.0 343.1 448.4 343.9 450.1 343.5C451.9 343.1 455.1 340.7 456.1 340.2C457.1 339.6 456.1 331.3 456.1 340.2C456.1 349.0 456.1 384.4 456.1 393.3C456.1 402.1 473.1 393.3 456.1 393.3C439.1 393.3 370.9 393.3 353.9 393.3C336.9 393.3 353.9 402.7 353.9 393.3C353.9 383.9 352.6 346.2 353.9 336.8Z M453.9 341.3C454.6 333.0 457.0 342.0 458.3 343.5C459.6 345.0 460.3 348.5 461.6 350.1C462.9 351.8 465.0 353.8 466.1 353.4C467.2 353.1 467.4 349.2 468.3 347.9C469.2 346.6 470.3 345.5 471.6 345.7C472.9 345.9 474.8 347.5 476.0 349.0C477.2 350.5 478.1 352.5 478.8 354.5C479.4 356.6 479.4 358.8 479.9 361.2C480.4 363.6 480.5 367.4 481.5 368.9C482.6 370.5 484.3 370.6 486.0 370.6C487.6 370.6 489.8 369.7 491.5 368.9C493.2 368.2 494.6 366.9 495.9 366.2C497.2 365.4 498.2 365.1 499.2 364.5C500.3 363.9 501.3 362.1 502.0 362.3C502.8 362.5 503.0 364.3 503.7 365.6C504.3 366.9 505.0 368.4 505.9 370.0C506.8 371.7 508.1 373.7 509.2 375.6C510.3 377.4 511.2 379.3 512.5 381.1C513.8 382.9 515.5 385.1 516.9 386.6C518.4 388.2 520.3 389.4 521.4 390.5C522.5 391.6 523.2 392.8 523.6 393.3C524.0 393.7 535.2 393.3 523.6 393.3C512.0 393.3 465.5 393.3 453.9 393.3C442.3 393.3 453.9 401.9 453.9 393.3C453.9 384.6 453.2 349.6 453.9 341.3Z M472.7 326.9C474.0 327.4 472.1 329.1 471.6 330.2C471.0 331.3 470.6 333.3 469.4 333.5C468.2 333.7 465.3 332.4 464.4 331.3C463.5 330.2 462.5 327.6 463.8 326.9C465.2 326.2 471.4 326.3 472.7 326.9Z M513.6 326.9C513.7 326.5 514.2 332.6 514.7 334.6C515.3 336.7 515.8 337.8 516.9 339.1C518.1 340.4 519.5 341.6 521.4 342.4C523.2 343.1 525.8 342.9 528.0 343.5C530.2 344.0 532.8 344.6 534.6 345.7C536.5 346.8 537.8 348.5 539.1 350.1C540.4 351.8 541.3 353.8 542.4 355.7C543.5 357.5 544.6 359.5 545.7 361.2C546.8 362.8 547.7 364.3 549.0 365.6C550.3 366.9 552.3 368.2 553.5 368.9C554.6 369.7 555.7 369.9 556.1 370.0C556.5 370.2 556.1 367.5 556.1 370.0C556.1 372.6 556.1 382.9 556.1 385.5C556.1 388.1 556.7 385.3 556.1 385.5C555.5 385.7 553.7 387.0 552.3 386.6C551.0 386.3 549.0 385.0 547.9 383.3C546.8 381.7 546.4 378.9 545.7 376.7C545.0 374.5 544.4 372.1 543.5 370.0C542.6 368.0 541.3 366.2 540.2 364.5C539.1 362.8 538.1 361.4 536.9 360.1C535.6 358.8 533.5 357.1 532.4 356.8C531.3 356.4 531.3 357.5 530.2 357.9C529.1 358.2 527.1 358.4 525.8 359.0C524.5 359.5 523.2 360.1 522.5 361.2C521.7 362.3 521.7 365.6 521.4 365.6C521.0 365.6 520.8 362.8 520.3 361.2C519.7 359.5 518.6 357.9 518.1 355.7C517.5 353.4 517.3 350.3 516.9 347.9C516.6 345.5 516.3 343.1 515.8 341.3C515.4 339.4 514.6 339.2 514.2 336.8C513.8 334.5 513.5 327.3 513.6 326.9Z M533.0 380.0C533.2 379.3 534.0 378.5 534.6 378.3C535.3 378.1 536.4 378.2 536.9 378.9C537.3 379.5 537.7 381.4 537.4 382.2C537.1 383.0 535.9 383.8 535.2 383.9C534.5 384.0 533.7 383.4 533.3 382.8C532.9 382.1 532.8 380.7 533.0 380.0Z M634.6 326.9C642.4 327.3 633.4 328.2 632.4 329.1C631.5 330.0 630.0 331.1 629.1 332.4C628.2 333.7 627.8 335.7 626.9 336.8C626.0 338.0 625.2 338.9 623.6 339.6C621.9 340.4 618.8 340.6 616.9 341.3C615.1 341.9 614.0 342.6 612.5 343.5C611.0 344.4 609.2 345.7 608.1 346.8C607.0 347.9 606.3 348.8 605.9 350.1C605.5 351.4 605.5 353.3 605.9 354.5C606.3 355.8 607.0 357.2 608.1 357.9C609.2 358.5 610.3 358.5 612.5 358.4C614.7 358.3 618.4 357.7 621.4 357.3C624.3 356.9 627.6 356.8 630.2 356.2C632.8 355.7 634.6 354.9 636.9 354.0C639.1 353.1 641.5 351.3 643.5 350.7C645.5 350.0 648.1 350.2 649.0 350.1C649.9 350.0 649.0 346.2 649.0 350.1C649.0 354.1 649.0 369.9 649.0 373.9C649.0 377.9 651.1 374.0 649.0 373.9C647.0 373.8 640.4 373.4 636.9 373.4C633.4 373.3 631.0 373.2 628.0 373.4C625.1 373.5 622.1 374.4 619.2 374.5C616.2 374.6 613.3 374.1 610.3 373.9C607.4 373.7 604.4 373.5 601.5 373.4C598.5 373.2 595.4 373.0 592.6 372.8C589.8 372.6 586.7 372.8 584.9 372.2C583.0 371.7 582.3 370.8 581.5 369.5C580.8 368.2 580.2 366.1 580.2 364.5C580.2 362.9 580.6 361.6 581.5 360.1C582.5 358.6 584.1 356.9 586.0 355.7C587.8 354.4 590.6 353.4 592.6 352.3C594.6 351.2 596.7 350.5 598.1 349.0C599.6 347.5 600.8 345.5 601.5 343.5C602.1 341.5 602.2 338.7 602.0 336.8C601.8 335.0 601.4 333.1 600.4 332.4C599.3 331.8 597.4 333.3 595.9 333.0C594.5 332.6 593.2 331.2 591.5 330.2C589.8 329.2 578.8 327.4 586.0 326.9C593.2 326.3 626.9 326.5 634.6 326.9Z M553.9 372.2C554.4 369.5 556.1 375.2 557.2 376.7C558.3 378.1 559.1 379.8 560.5 381.1C562.0 382.4 564.2 383.3 566.1 384.4C567.9 385.5 569.9 386.7 571.6 387.7C573.3 388.7 575.1 389.6 576.0 390.5C576.9 391.4 576.9 392.8 577.1 393.3C577.3 393.7 581.0 393.3 577.1 393.3C573.3 393.3 557.8 393.3 553.9 393.3C550.0 393.3 553.9 396.8 553.9 393.3C553.9 389.8 553.3 375.0 553.9 372.2Z"/>
<path fill="#00ff50" d="M291.0 130.0C292.4 130.8 290.3 133.9 289.5 135.0C288.8 136.1 287.7 136.6 286.5 136.6C285.4 136.6 283.6 136.1 282.7 135.0C281.7 133.9 279.6 130.8 281.0 130.0C282.4 129.2 289.5 129.2 291.0 130.0Z M363.8 128.9C366.1 128.9 363.8 126.9 363.8 128.9C363.8 130.9 364.2 138.5 363.8 141.1C363.5 143.6 363.1 144.0 361.6 144.4C360.2 144.7 356.5 144.4 355.0 143.3C353.5 142.2 353.2 140.1 352.3 137.7C351.5 135.3 350.5 130.4 350.1 128.9C349.8 127.4 347.8 128.9 350.1 128.9C352.4 128.9 361.6 128.9 363.8 128.9Z M545.2 172.0C544.8 170.5 544.7 165.6 545.2 163.2C545.6 160.8 546.9 159.5 547.9 157.7C548.9 155.8 550.3 153.6 551.2 152.1C552.2 150.6 552.9 149.1 553.5 148.8C554.0 148.5 554.7 149.2 554.6 150.5C554.4 151.8 553.1 154.4 552.3 156.5C551.6 158.7 550.7 161.2 550.1 163.2C549.6 165.2 549.5 167.1 549.0 168.7C548.6 170.3 548.0 172.0 547.4 172.6C546.7 173.1 545.5 173.6 545.2 172.0Z M514.7 203.0C514.3 202.5 515.3 200.6 515.8 200.2C516.4 199.9 517.6 200.3 518.1 200.8C518.5 201.3 519.2 202.6 518.6 203.0C518.1 203.4 515.2 203.5 514.7 203.0Z M612.0 130.0C614.2 130.0 612.2 129.3 612.0 130.0C611.8 130.7 611.1 132.7 610.9 134.4C610.6 136.2 611.1 139.3 610.3 140.5C609.5 141.7 607.4 140.8 605.9 141.6C604.4 142.4 602.9 144.2 601.5 145.5C600.0 146.8 598.0 149.4 597.0 149.4C596.1 149.4 595.8 147.2 595.9 145.5C596.0 143.7 597.1 141.4 597.6 138.8C598.0 136.3 598.5 131.5 598.7 130.0C598.9 128.5 596.5 130.0 598.7 130.0C600.9 130.0 609.8 130.0 612.0 130.0Z M635.8 130.0C638.5 130.0 635.8 129.3 635.8 130.0C635.7 130.7 635.6 132.9 635.2 134.4C634.8 136.0 634.7 138.6 633.5 139.4C632.3 140.2 629.3 139.9 628.0 139.4C626.7 138.9 626.5 136.9 625.8 136.6C625.1 136.4 624.5 136.5 623.6 137.7C622.7 139.0 621.4 142.2 620.3 144.4C619.2 146.6 618.1 149.2 616.9 151.0C615.7 152.9 614.2 154.7 613.1 155.4C612.0 156.2 610.9 156.4 610.3 155.4C609.8 154.5 609.6 152.3 609.8 149.9C609.9 147.5 610.6 143.2 611.4 141.1C612.2 138.9 613.4 139.0 614.7 137.2C616.0 135.3 618.4 131.2 619.2 130.0C619.9 128.8 616.4 130.0 619.2 130.0C621.9 130.0 633.0 130.0 635.8 130.0Z M459.4 240.2C460.9 239.3 461.6 237.7 462.7 238.0C463.8 238.4 465.0 241.4 466.1 242.5C467.1 243.6 468.2 243.2 468.8 244.7C469.5 246.1 469.3 250.3 469.9 251.3C470.6 252.3 471.5 250.4 472.7 250.8C473.9 251.1 475.6 253.2 477.1 253.5C478.6 253.8 480.4 251.9 481.5 252.4C482.7 253.0 483.4 255.2 484.3 256.8C485.2 258.5 486.4 260.3 487.1 262.4C487.7 264.4 488.4 267.9 488.2 269.0C488.0 270.1 486.7 269.9 486.0 269.0C485.2 268.1 484.7 265.1 483.8 263.5C482.8 261.8 481.7 260.0 480.4 259.1C479.2 258.1 477.5 257.9 476.0 257.9C474.5 257.9 473.3 259.1 471.6 259.1C469.9 259.1 467.9 257.9 466.1 257.9C464.2 257.9 462.0 258.5 460.5 259.1C459.1 259.6 458.3 261.3 457.2 261.3C456.1 261.3 454.4 262.0 453.9 259.1C453.3 256.1 453.0 246.7 453.9 243.6C454.8 240.4 457.9 241.2 459.4 240.2Z M490.4 251.3C490.6 250.2 491.5 248.4 492.1 249.1C492.6 249.8 492.9 253.5 493.7 255.7C494.5 257.9 496.1 260.2 497.0 262.4C498.0 264.6 499.4 267.9 499.2 269.0C499.1 270.1 497.0 270.3 495.9 269.0C494.8 267.7 493.4 263.5 492.6 261.3C491.8 259.1 491.3 257.4 491.0 255.7C490.6 254.1 490.2 252.4 490.4 251.3Z M517.5 224.2C517.9 223.8 518.5 226.9 518.6 229.2C518.7 231.5 518.4 235.3 518.1 238.0C517.7 240.8 517.1 243.2 516.4 245.8C515.7 248.4 514.6 251.1 513.6 253.5C512.6 255.9 511.4 258.3 510.3 260.2C509.2 262.0 507.8 263.1 507.0 264.6C506.2 266.1 505.9 268.3 505.3 269.0C504.8 269.7 503.6 270.1 503.7 269.0C503.8 267.9 505.0 264.6 505.9 262.4C506.8 260.2 508.1 258.1 509.2 255.7C510.3 253.3 511.5 250.6 512.5 248.0C513.5 245.4 514.6 243.0 515.3 240.2C515.9 237.5 516.0 234.1 516.4 231.4C516.8 228.7 517.1 224.6 517.5 224.2Z M523.0 242.5C523.2 243.4 522.9 246.0 522.5 248.0C522.0 250.0 521.1 252.8 520.3 254.6C519.4 256.5 518.2 258.5 517.5 259.1C516.8 259.6 515.7 258.9 515.8 257.9C515.9 257.0 517.3 255.2 518.1 253.5C518.8 251.9 519.7 249.8 520.3 248.0C520.8 246.1 520.9 243.4 521.4 242.5C521.8 241.5 522.8 241.5 523.0 242.5Z M525.8 269.0C525.1 267.9 526.2 264.2 526.9 262.4C527.6 260.5 529.3 258.3 530.2 257.9C531.1 257.6 532.2 258.3 532.4 260.2C532.6 262.0 532.4 267.5 531.3 269.0C530.2 270.5 526.5 270.1 525.8 269.0Z M562.2 243.6C561.9 242.8 562.1 241.4 562.7 240.2C563.4 239.1 565.0 237.9 566.1 236.9C567.2 235.9 568.5 234.5 569.4 234.2C570.3 233.8 571.4 234.0 571.6 234.7C571.8 235.5 571.2 237.3 570.5 238.6C569.7 239.9 568.2 241.4 567.2 242.5C566.2 243.5 565.2 244.5 564.4 244.7C563.6 244.9 562.5 244.3 562.2 243.6Z M574.9 232.5C575.0 232.1 576.1 231.2 576.6 231.2C577.0 231.2 577.8 232.1 577.7 232.5C577.6 232.9 576.5 233.6 576.0 233.6C575.6 233.6 574.8 232.9 574.9 232.5Z M553.9 238.0C554.4 236.4 556.4 236.7 557.2 236.9C558.0 237.1 558.8 238.0 558.9 239.1C559.0 240.2 558.6 242.3 557.8 243.6C556.9 244.9 554.5 247.8 553.9 246.9C553.2 246.0 553.3 239.7 553.9 238.0Z M256.7 272.0C257.3 271.0 259.7 271.0 260.5 271.4C261.4 271.8 261.8 273.2 261.9 274.2C262.0 275.1 262.0 276.5 261.1 276.9C260.2 277.4 257.4 277.8 256.7 276.9C255.9 276.1 256.0 272.9 256.7 272.0Z M468.3 306.2C468.8 304.6 470.9 304.2 471.6 305.1C472.2 306.1 472.1 308.8 472.1 311.8C472.1 314.7 471.5 319.7 471.6 322.8C471.7 326.0 472.9 329.2 472.7 330.6C472.5 332.0 471.1 332.2 470.5 331.1C469.8 330.0 469.2 326.6 468.8 323.9C468.5 321.3 468.4 318.0 468.3 315.1C468.2 312.1 467.7 307.9 468.3 306.2Z M453.9 315.1C454.4 312.1 455.9 315.8 456.7 317.3C457.4 318.8 458.2 321.9 458.3 323.9C458.4 326.0 457.6 327.6 457.2 329.5C456.8 331.3 456.7 334.1 456.1 335.0C455.6 335.9 454.3 338.3 453.9 335.0C453.5 331.7 453.4 318.0 453.9 315.1Z M487.1 335.0C486.5 333.9 487.6 330.2 488.2 328.4C488.7 326.5 489.8 324.1 490.4 323.9C491.0 323.8 491.9 325.4 492.1 327.3C492.2 329.1 492.3 333.7 491.5 335.0C490.7 336.3 487.6 336.1 487.1 335.0Z M493.7 335.0C493.3 333.2 494.7 326.9 495.4 323.9C496.0 321.0 496.9 318.0 497.6 317.3C498.2 316.6 499.1 317.7 499.2 319.5C499.4 321.4 499.0 325.8 498.7 328.4C498.4 331.0 498.4 333.9 497.6 335.0C496.8 336.1 494.1 336.9 493.7 335.0Z M606.4 286.9C606.6 285.8 607.8 283.8 609.2 283.0C610.6 282.2 613.1 282.4 614.7 281.9C616.4 281.5 617.7 280.9 619.2 280.3C620.6 279.6 622.1 278.3 623.6 278.0C625.1 277.8 626.7 277.9 628.0 278.6C629.3 279.3 631.1 281.1 631.3 282.5C631.5 283.8 630.4 285.8 629.1 286.9C627.8 288.0 625.4 289.1 623.6 289.1C621.7 289.1 619.9 287.1 618.1 286.9C616.2 286.7 614.2 287.5 612.5 288.0C610.9 288.5 609.1 289.8 608.1 289.7C607.1 289.5 606.3 288.0 606.4 286.9Z M581.5 314.0C581.8 312.7 582.7 309.8 583.8 308.5C584.9 307.1 586.3 306.2 588.2 305.7C590.0 305.2 592.8 305.5 594.8 305.7C596.9 305.9 598.5 307.1 600.4 306.8C602.2 306.5 604.0 304.6 605.9 304.0C607.7 303.5 609.6 303.4 611.4 303.5C613.3 303.6 615.7 303.9 616.9 304.6C618.2 305.2 619.3 306.2 619.2 307.4C619.0 308.5 617.3 310.3 615.8 311.2C614.4 312.1 612.2 312.4 610.3 312.9C608.5 313.3 606.6 313.3 604.8 314.0C602.9 314.6 601.3 316.5 599.2 316.8C597.2 317.0 594.8 315.7 592.6 315.7C590.4 315.7 587.7 316.7 586.0 316.8C584.2 316.8 582.8 316.7 582.1 316.2C581.4 315.7 581.3 315.3 581.5 314.0Z M635.2 308.5C635.4 307.5 637.7 306.4 639.1 305.7C640.5 305.0 642.1 304.4 643.5 304.0C644.9 303.7 646.4 303.6 647.4 303.5C648.3 303.4 648.8 301.7 649.0 303.5C649.3 305.2 649.9 312.5 649.0 314.0C648.1 315.5 645.3 312.8 643.5 312.3C641.7 311.9 639.3 311.9 638.0 311.2C636.6 310.6 635.0 309.4 635.2 308.5Z M314.7 381.7L316.7 381.7L317.4 387.7L315.4 387.7Z M320.3 382.2L321.4 382.2L322.0 387.7L320.9 387.7Z M324.7 382.2L325.8 382.2L326.5 387.7L325.4 387.7Z M328.6 382.2L329.7 382.2L330.3 387.2L329.2 387.2Z M335.2 382.2L336.3 382.2L337.0 386.6L335.9 386.6Z M339.1 382.2L340.2 382.2L340.8 386.6L339.7 386.6Z M343.5 382.2L344.6 382.2L345.3 386.1L344.2 386.1Z M347.4 382.2L348.5 382.2L349.1 385.5L348.0 385.5Z M451.2 372.2C451.2 370.2 452.6 368.7 453.5 367.8C454.3 366.9 455.7 364.5 456.1 366.7C456.5 368.9 456.5 378.9 456.1 381.1C455.7 383.3 454.3 381.5 453.5 380.0C452.6 378.5 451.2 374.3 451.2 372.2Z M453.9 368.9C455.0 367.5 458.5 369.8 460.5 369.5C462.6 369.2 464.4 367.8 466.1 367.3C467.7 366.7 469.6 366.0 470.5 366.2C471.4 366.3 472.1 367.4 471.6 368.4C471.0 369.4 468.8 371.0 467.2 372.2C465.5 373.4 463.3 374.6 461.6 375.6C460.0 376.5 458.5 377.3 457.2 377.8C455.9 378.2 454.4 379.8 453.9 378.3C453.3 376.9 452.8 370.4 453.9 368.9Z M466.1 385.5C466.5 384.7 468.3 383.6 469.4 383.3C470.5 383.0 472.1 383.3 472.7 383.9C473.3 384.4 473.8 385.8 473.3 386.6C472.7 387.5 470.5 388.6 469.4 388.8C468.3 389.1 467.2 388.8 466.6 388.3C466.1 387.7 465.6 386.4 466.1 385.5Z M470.8 236.6C472.5 236.8 473.0 238.8 474.1 240.0C475.2 241.1 476.1 242.4 477.4 243.3C478.7 244.2 480.6 244.6 481.9 245.5C483.1 246.4 484.1 247.8 485.2 248.8C486.3 249.8 487.4 251.4 488.5 251.6C489.6 251.8 490.9 249.8 491.8 249.9C492.7 250.0 493.1 251.2 494.0 252.1C494.9 253.0 496.2 254.5 497.3 255.4C498.5 256.4 500.5 256.0 501.1 257.7C501.7 259.3 501.9 264.5 501.1 265.4C500.3 266.3 497.8 264.3 496.2 263.2C494.7 262.1 493.1 260.4 491.8 258.8C490.5 257.1 489.2 253.8 488.5 253.2C487.8 252.7 487.9 254.3 487.4 255.4C486.8 256.5 486.3 259.3 485.2 259.9C484.1 260.4 482.2 259.5 480.8 258.8C479.3 258.0 477.6 256.7 476.3 255.4C475.0 254.2 473.9 251.6 473.0 251.0C472.1 250.5 471.7 251.2 470.8 252.1C469.9 253.0 468.6 256.2 467.5 256.5C466.4 256.9 465.3 255.3 464.2 254.3C463.1 253.4 461.7 251.4 460.8 251.0C460.0 250.6 460.1 252.3 459.2 252.1C458.3 251.9 456.3 251.4 455.3 249.9C454.3 248.4 452.7 244.7 453.1 243.3C453.5 241.8 455.7 241.8 457.5 241.1C459.4 240.3 461.9 239.6 464.2 238.8C466.4 238.1 469.1 236.5 470.8 236.6Z M455.9 250.5C456.3 249.3 458.4 250.6 459.2 252.1C459.9 253.7 459.7 257.5 460.3 259.9C460.8 262.3 461.7 264.5 462.5 266.5C463.3 268.5 464.6 270.4 465.3 272.0C465.9 273.7 467.2 275.6 466.4 276.5C465.5 277.3 461.3 278.5 460.3 277.0C459.3 275.5 460.6 269.9 460.3 267.6C460.0 265.3 459.3 264.6 458.6 263.2C458.0 261.8 456.9 261.4 456.4 259.3C456.0 257.2 455.4 251.7 455.9 250.5Z M449.8 255.4C451.6 255.2 454.2 254.8 455.3 255.4C456.4 256.1 456.6 258.2 456.4 259.3C456.2 260.4 455.1 261.2 454.2 262.1C453.3 262.9 452.0 264.5 450.9 264.3C449.8 264.1 448.7 262.2 447.6 261.0C446.5 259.8 443.9 258.0 444.2 257.1C444.6 256.2 447.9 255.7 449.8 255.4Z"/>
<path fill="#f0ff00" d="M459.2 252.1C459.3 250.6 460.0 250.6 460.8 251.0C461.7 251.4 463.1 253.4 464.2 254.3C465.3 255.3 466.4 256.9 467.5 256.5C468.6 256.2 469.9 253.0 470.8 252.1C471.7 251.2 472.1 250.5 473.0 251.0C473.9 251.6 475.0 254.2 476.3 255.4C477.6 256.7 479.3 258.0 480.8 258.8C482.2 259.5 484.1 260.4 485.2 259.9C486.3 259.3 486.8 256.5 487.4 255.4C487.9 254.3 487.8 252.7 488.5 253.2C489.2 253.8 490.5 257.1 491.8 258.8C493.1 260.4 494.7 262.1 496.2 263.2C497.8 264.3 500.3 263.2 501.1 265.4C501.9 267.6 502.1 274.8 501.1 276.5C500.1 278.1 497.2 275.8 495.1 275.4C493.0 274.9 490.7 274.1 488.5 273.7C486.3 273.3 483.9 273.8 481.9 273.1C479.8 272.5 477.8 270.6 476.3 269.8C474.9 269.1 473.9 268.5 473.0 268.7C472.1 268.9 471.5 270.1 470.8 270.9C470.1 271.8 469.5 273.5 468.6 273.7C467.7 273.9 466.3 273.2 465.3 272.0C464.3 270.8 463.3 268.5 462.5 266.5C461.7 264.5 460.8 262.3 460.3 259.9C459.7 257.5 459.1 253.6 459.2 252.1Z M551.4 235.5C553.6 232.8 559.8 232.9 561.5 234.7C563.1 236.5 562.4 241.9 561.5 246.3C560.6 250.7 558.8 258.6 556.0 261.0C553.3 263.5 546.5 262.7 545.2 261.0C543.9 259.4 547.3 255.2 548.3 251.0C549.3 246.7 549.2 238.2 551.4 235.5Z"/>
<path fill="#00ff50" d="M557.6 237.0C558.7 237.0 560.1 237.6 559.6 239.4C559.1 241.2 556.6 244.9 554.5 247.9C552.3 250.8 549.3 254.1 546.7 257.2C544.2 260.3 541.3 263.9 539.0 266.5C536.7 269.0 534.6 271.8 532.8 272.7C531.0 273.5 528.6 272.7 528.2 271.4C527.8 270.1 528.8 267.4 530.5 264.9C532.2 262.4 535.6 259.4 538.2 256.4C540.8 253.4 543.5 249.9 546.0 247.1C548.4 244.3 551.0 241.0 552.9 239.4C554.9 237.7 556.5 237.0 557.6 237.0Z"/>
<path fill="#ffc800" d="M281.3 152.7C281.6 151.1 282.7 149.0 284.0 147.9C285.3 146.8 287.7 146.0 289.3 146.0C290.9 146.1 292.8 147.1 293.7 148.3C294.6 149.5 295.1 151.7 294.8 153.2C294.5 154.8 293.5 156.6 292.1 157.7C290.6 158.7 287.6 159.6 286.0 159.6C284.3 159.6 282.9 158.8 282.1 157.7C281.3 156.5 281.0 154.3 281.3 152.7Z M260.0 202.6C260.5 201.3 261.4 200.5 263.8 199.9C266.3 199.2 271.2 199.2 274.9 198.8C278.6 198.3 282.3 197.3 286.0 197.1C289.7 196.9 294.3 196.9 297.0 197.7C299.8 198.4 301.3 200.0 302.6 201.5C303.9 203.1 304.0 205.4 304.8 207.1C305.5 208.7 305.3 210.4 307.0 211.5C308.7 212.6 312.9 212.8 314.7 213.7C316.6 214.6 317.6 215.7 318.1 217.0C318.5 218.3 318.4 220.6 317.5 221.4C316.6 222.3 315.0 222.5 312.5 222.0C310.0 221.4 305.7 219.2 302.6 218.1C299.4 217.0 297.0 215.9 293.7 215.4C290.4 214.8 286.2 214.8 282.7 214.8C279.2 214.8 275.6 215.5 272.7 215.4C269.7 215.2 267.0 214.9 265.0 213.7C262.9 212.5 261.4 210.0 260.5 208.2C259.7 206.3 259.4 204.0 260.0 202.6Z M339.1 212.6C339.1 211.2 340.7 209.5 342.4 208.2C344.0 206.9 346.7 205.6 349.0 204.8C351.3 204.1 354.9 203.9 356.1 203.7C357.3 203.6 356.1 201.1 356.1 203.7C356.1 206.4 356.1 217.1 356.1 219.8C356.1 222.5 357.3 220.0 356.1 219.8C354.9 219.6 351.3 219.2 349.0 218.7C346.7 218.1 344.0 217.5 342.4 216.5C340.7 215.5 339.1 214.0 339.1 212.6Z M322.8 225.3C322.8 224.9 323.7 224.0 324.1 224.0C324.6 224.0 325.5 224.9 325.5 225.3C325.5 225.8 324.6 226.6 324.1 226.6C323.7 226.6 322.8 225.8 322.8 225.3Z M336.3 243.6C336.7 242.5 337.7 240.6 339.1 239.7C340.5 238.8 342.9 237.9 344.6 238.0C346.3 238.1 348.5 239.2 349.0 240.2C349.6 241.3 349.0 243.2 347.9 244.1C346.8 245.0 344.2 245.4 342.4 245.8C340.5 246.1 337.9 246.7 336.9 246.3C335.8 246.0 335.9 244.7 336.3 243.6Z M372.7 130.0C373.4 130.8 373.0 133.9 372.7 135.0C372.4 136.1 371.7 136.5 371.0 136.6C370.4 136.7 369.3 136.6 368.8 135.5C368.4 134.4 367.6 130.9 368.3 130.0C368.9 129.1 372.0 129.2 372.7 130.0Z M380.2 152.1C380.4 151.1 381.0 149.7 381.5 149.4C382.1 149.0 383.2 149.2 383.8 149.9C384.4 150.6 385.1 152.6 385.1 153.8C385.1 155.0 384.6 156.5 384.0 157.1C383.4 157.7 382.2 157.9 381.5 157.7C380.9 157.4 380.4 156.4 380.2 155.4C380.0 154.5 380.0 153.1 380.2 152.1Z M353.9 152.1C354.6 150.3 357.2 151.4 358.3 152.1C359.4 152.9 360.3 154.9 360.5 156.5C360.7 158.2 360.5 161.0 359.4 162.1C358.3 163.2 354.8 164.8 353.9 163.2C353.0 161.5 353.2 154.0 353.9 152.1Z M353.8 153.8C354.1 152.6 355.7 151.6 356.1 152.7C356.5 153.8 356.5 159.2 356.1 160.4C355.8 161.6 354.4 161.0 354.0 159.9C353.6 158.8 353.4 155.0 353.8 153.8Z M392.6 134.4C393.1 134.1 394.8 134.6 395.9 135.5C397.0 136.5 398.3 138.5 399.2 140.0C400.2 141.4 401.0 143.0 401.5 144.4C401.9 145.8 402.4 147.9 402.0 148.3C401.6 148.6 400.3 147.8 399.2 146.6C398.2 145.4 396.9 142.6 395.9 141.1C394.9 139.5 393.7 138.3 393.2 137.2C392.6 136.1 392.1 134.7 392.6 134.4Z M407.0 159.3C407.4 158.2 409.0 159.8 410.3 161.0C411.6 162.2 413.3 165.4 414.7 166.5C416.2 167.6 418.2 168.3 419.2 167.6C420.1 166.9 419.5 162.8 420.3 162.1C421.0 161.3 422.3 162.1 423.6 163.2C424.9 164.3 426.5 166.9 428.0 168.7C429.5 170.6 431.1 173.3 432.4 174.2C433.8 175.2 435.5 175.2 436.3 174.2C437.1 173.3 436.4 169.7 437.4 168.7C438.4 167.7 440.8 168.5 442.4 168.2C444.0 167.8 445.3 167.3 446.8 166.5C448.3 165.7 449.9 163.6 451.2 163.2C452.6 162.8 454.2 164.1 455.0 164.3C455.8 164.5 455.9 164.3 456.1 164.3C456.3 164.3 456.1 160.4 456.1 164.3C456.1 168.2 456.1 183.7 456.1 187.5C456.1 191.4 456.9 187.2 456.1 187.5C455.3 187.9 452.6 188.8 451.2 189.7C449.9 190.7 449.2 192.3 447.9 193.1C446.6 193.8 445.0 193.6 443.5 194.2C442.0 194.7 440.4 196.2 439.1 196.4C437.8 196.6 436.9 195.3 435.8 195.3C434.6 195.3 433.9 196.0 432.4 196.4C431.0 196.7 428.6 197.5 426.9 197.5C425.2 197.5 423.8 197.3 422.5 196.4C421.2 195.4 420.1 193.8 419.2 191.9C418.2 190.1 417.7 187.5 416.9 185.3C416.2 183.1 415.7 180.7 414.7 178.7C413.8 176.6 412.5 175.0 411.4 173.1C410.3 171.3 408.8 169.9 408.1 167.6C407.4 165.3 406.6 160.4 407.0 159.3Z M453.9 165.4C454.8 162.4 457.4 165.0 459.4 164.8C461.5 164.7 463.5 164.0 466.1 164.3C468.6 164.6 472.3 165.4 474.9 166.5C477.5 167.6 479.3 169.3 481.5 170.9C483.8 172.6 486.3 175.0 488.2 176.5C490.0 177.9 490.8 179.2 492.6 179.8C494.5 180.3 496.7 180.0 499.2 179.8C501.8 179.6 504.8 179.0 508.1 178.7C511.4 178.3 515.8 177.6 519.2 177.6C522.5 177.6 526.1 177.9 528.0 178.7C529.9 179.4 530.4 180.5 530.8 182.0C531.1 183.5 531.1 185.9 530.2 187.5C529.4 189.2 528.0 190.7 525.8 191.9C523.6 193.2 520.3 194.6 516.9 195.3C513.6 195.9 509.2 195.8 505.9 195.8C502.6 195.8 499.6 195.9 497.0 195.3C494.5 194.6 492.6 193.1 490.4 191.9C488.2 190.8 486.0 189.6 483.8 188.6C481.5 187.7 479.7 187.3 477.1 186.4C474.5 185.5 470.9 183.7 468.3 183.1C465.7 182.5 464.0 183.2 461.6 183.1C459.2 183.0 455.2 185.5 453.9 182.5C452.6 179.6 453.0 168.3 453.9 165.4Z M531.5 130.0C532.6 130.0 531.6 129.1 531.5 130.0C531.5 130.9 532.3 134.5 531.3 135.3C530.3 136.1 526.5 135.9 525.5 135.0C524.5 134.1 525.3 130.8 525.2 130.0C525.2 129.2 524.2 130.0 525.2 130.0C526.3 130.0 530.5 130.0 531.5 130.0Z M559.4 159.9C559.1 158.8 559.1 156.0 559.4 154.3C559.8 152.7 560.5 151.1 561.6 149.9C562.7 148.7 564.9 147.3 566.1 147.1C567.3 147.0 568.6 147.6 568.8 148.8C569.1 150.0 568.4 152.7 567.7 154.3C567.1 156.0 566.0 157.7 565.0 158.8C563.9 159.9 562.6 160.8 561.6 161.0C560.7 161.2 559.8 161.0 559.4 159.9Z M571.6 163.7C570.7 162.8 571.0 160.7 571.6 158.8C572.1 156.8 573.8 153.9 574.9 152.1C576.0 150.4 576.9 148.8 578.2 148.3C579.5 147.7 581.4 149.1 582.7 148.8C583.9 148.5 585.1 146.2 586.0 146.6C586.9 147.0 587.5 149.4 588.2 151.0C588.8 152.7 589.8 154.7 589.8 156.5C589.9 158.4 589.8 160.6 588.7 162.1C587.7 163.6 585.7 165.0 583.8 165.4C581.8 165.8 579.2 164.6 577.1 164.3C575.1 164.0 572.5 164.7 571.6 163.7Z M593.2 164.3C593.2 163.2 594.7 161.5 595.9 159.9C597.1 158.2 598.8 156.0 600.4 154.3C601.9 152.7 604.4 149.9 605.3 149.9C606.3 149.9 606.2 152.7 605.9 154.3C605.6 156.0 604.6 158.2 603.7 159.9C602.8 161.5 601.6 163.2 600.4 164.3C599.1 165.4 597.1 166.5 595.9 166.5C594.7 166.5 593.2 165.4 593.2 164.3Z M612.0 165.4C612.1 164.8 612.6 163.1 613.6 162.1C614.6 161.0 617.1 159.2 618.1 159.0C619.0 158.8 619.5 160.1 619.2 161.0C618.8 161.9 616.9 163.5 615.8 164.3C614.8 165.1 613.7 165.8 613.1 166.0C612.4 166.1 611.9 166.0 612.0 165.4Z M363.8 259.1C364.1 258.5 365.1 258.0 366.1 257.9C367.0 257.9 368.7 258.0 369.4 258.5C370.0 259.0 370.3 260.2 369.9 260.7C369.6 261.3 368.1 261.7 367.2 261.8C366.2 261.9 365.0 261.7 364.4 261.3C363.8 260.8 363.6 259.6 363.8 259.1Z M353.9 203.7C354.8 201.2 357.8 203.6 359.4 204.3C361.1 205.0 362.6 206.6 363.8 208.2C365.1 209.7 365.9 212.0 367.2 213.7C368.5 215.4 370.1 216.9 371.6 218.1C373.1 219.3 375.0 219.8 376.0 220.9C377.0 222.0 377.6 223.4 377.7 224.8C377.8 226.1 377.8 228.4 376.6 229.2C375.4 230.0 372.4 230.0 370.5 229.7C368.6 229.5 366.6 228.6 365.0 227.5C363.3 226.4 362.0 224.4 360.5 223.1C359.1 221.8 357.2 220.3 356.1 219.8C355.0 219.2 354.3 222.5 353.9 219.8C353.5 217.1 353.0 206.3 353.9 203.7Z M383.2 213.7C383.3 212.4 384.0 210.6 384.9 209.8C385.7 209.1 387.1 208.8 388.2 209.3C389.3 209.7 390.4 211.4 391.5 212.6C392.6 213.8 394.1 215.1 394.8 216.5C395.6 217.8 396.3 220.2 395.9 220.9C395.6 221.6 393.9 221.3 392.6 220.9C391.3 220.5 389.6 219.2 388.2 218.7C386.8 218.1 385.1 218.4 384.3 217.6C383.5 216.7 383.1 215.0 383.2 213.7Z M404.2 230.3C404.3 229.2 405.8 228.1 407.0 228.1C408.2 228.1 410.0 229.4 411.4 230.3C412.8 231.2 414.4 232.3 415.3 233.6C416.2 234.9 417.0 236.8 416.9 238.0C416.9 239.2 415.8 240.7 414.7 240.8C413.6 240.9 411.7 239.6 410.3 238.6C408.9 237.6 407.5 236.1 406.4 234.7C405.4 233.3 404.1 231.4 404.2 230.3Z M423.0 230.3C423.2 229.2 424.6 227.8 425.8 227.5C427.0 227.2 428.9 227.8 430.2 228.6C431.5 229.5 432.7 231.1 433.5 232.5C434.4 233.9 435.4 235.7 435.2 236.9C435.0 238.1 433.6 239.6 432.4 239.7C431.2 239.8 429.3 238.4 428.0 237.5C426.7 236.6 425.5 235.4 424.7 234.2C423.9 233.0 422.8 231.4 423.0 230.3Z M437.4 194.9C440.4 195.4 437.9 197.0 436.9 197.7C435.8 198.3 433.4 198.3 431.3 198.8C429.3 199.2 426.5 200.5 424.7 200.4C422.8 200.3 421.2 199.1 420.3 198.2C419.3 197.3 416.3 195.4 419.2 194.9C422.0 194.3 434.5 194.4 437.4 194.9Z M447.9 229.2C448.1 229.0 449.2 229.8 449.6 230.3C449.9 230.8 450.3 231.8 450.1 232.0C449.9 232.1 448.8 231.9 448.5 231.4C448.1 230.9 447.7 229.4 447.9 229.2Z M492.1 243.6C492.1 242.6 492.0 241.4 493.2 240.8C494.4 240.2 497.1 240.5 499.2 240.2C501.4 240.0 504.0 239.5 505.9 239.1C507.7 238.8 509.2 239.0 510.3 238.0C511.4 237.1 511.8 234.7 512.5 233.6C513.3 232.5 514.1 232.3 514.7 231.4C515.4 230.5 515.9 228.4 516.4 228.1C516.9 227.7 517.4 228.1 517.5 229.2C517.6 230.3 517.4 232.9 516.9 234.7C516.5 236.6 515.5 238.6 514.7 240.2C514.0 241.9 513.4 243.4 512.5 244.7C511.6 246.0 510.7 247.3 509.2 248.0C507.7 248.7 505.7 249.0 503.7 249.1C501.6 249.2 498.8 249.0 497.0 248.5C495.3 248.1 494.0 247.2 493.2 246.3C492.3 245.5 492.1 244.5 492.1 243.6Z M519.2 240.2C519.7 238.0 520.3 236.6 521.4 234.7C522.5 232.9 524.8 230.3 525.8 229.2C526.8 228.1 527.3 227.5 527.5 228.1C527.6 228.6 527.5 230.7 526.9 232.5C526.3 234.3 524.7 237.1 523.6 239.1C522.5 241.2 521.2 243.2 520.3 244.7C519.3 246.1 518.2 248.7 518.1 248.0C517.9 247.3 518.6 242.5 519.2 240.2Z M525.8 242.5C526.5 240.2 528.7 236.9 530.2 234.7C531.7 232.5 533.2 230.8 534.6 229.2C536.1 227.6 538.1 225.5 539.1 225.3C540.0 225.1 540.5 226.7 540.2 228.1C539.8 229.5 538.1 231.8 536.9 233.6C535.6 235.5 533.9 237.3 532.4 239.1C531.0 241.0 529.1 243.2 528.0 244.7C526.9 246.1 526.2 248.4 525.8 248.0C525.4 247.6 525.1 244.7 525.8 242.5Z M528.6 257.9C528.7 256.3 529.9 253.7 531.3 251.3C532.7 248.9 534.8 245.7 536.9 243.6C538.9 241.4 541.7 239.6 543.5 238.6C545.2 237.6 546.6 237.2 547.4 237.5C548.1 237.8 548.6 238.9 547.9 240.2C547.3 241.6 545.2 243.9 543.5 245.8C541.8 247.6 539.6 249.5 538.0 251.3C536.3 253.2 534.8 255.2 533.5 256.8C532.2 258.5 531.1 261.1 530.2 261.3C529.4 261.4 528.4 259.6 528.6 257.9Z M519.2 253.5C519.9 251.9 522.7 248.4 523.6 248.0C524.5 247.6 525.1 249.8 524.7 251.3C524.3 252.8 522.3 255.7 521.4 256.8C520.4 257.9 519.5 258.5 519.2 257.9C518.8 257.4 518.4 255.2 519.2 253.5Z M473.3 261.3C473.3 259.6 474.5 259.1 475.5 259.1C476.5 259.1 478.1 260.2 479.3 261.3C480.5 262.4 481.9 264.4 482.7 265.7C483.4 267.0 485.1 268.5 483.8 269.0C482.5 269.6 476.7 270.3 474.9 269.0C473.2 267.7 473.2 262.9 473.3 261.3Z M487.1 245.8C486.9 244.9 487.7 244.7 488.2 245.2C488.6 245.8 489.7 248.3 489.8 249.1C490.0 249.9 489.8 250.8 489.3 250.2C488.8 249.7 487.3 246.6 487.1 245.8Z M611.4 223.7C611.6 222.7 613.4 221.8 614.7 220.3C616.0 218.9 617.7 216.6 619.2 214.8C620.6 213.0 622.1 210.9 623.6 209.3C625.1 207.6 626.7 205.7 628.0 204.8C629.3 204.0 630.7 203.7 631.3 204.3C632.0 204.8 632.2 206.8 631.9 208.2C631.5 209.6 630.5 210.9 629.1 212.6C627.7 214.3 625.4 216.5 623.6 218.1C621.7 219.8 619.7 221.3 618.1 222.5C616.4 223.8 614.7 225.7 613.6 225.9C612.5 226.1 611.2 224.6 611.4 223.7Z M573.3 220.9C573.2 220.2 574.1 219.0 574.9 218.1C575.7 217.3 577.4 216.1 578.2 215.9C579.1 215.7 579.8 216.4 579.9 217.0C580.0 217.7 579.5 218.9 578.8 219.8C578.0 220.7 576.4 222.4 575.5 222.5C574.5 222.7 573.3 221.6 573.3 220.9Z M565.0 228.6C565.0 227.8 566.0 225.7 566.6 224.8C567.3 223.8 568.3 223.1 568.8 223.1C569.4 223.1 570.0 223.9 569.9 224.8C569.8 225.6 568.9 227.3 568.3 228.1C567.6 228.9 566.6 229.6 566.1 229.7C565.5 229.8 564.9 229.5 565.0 228.6Z M563.3 253.0C563.4 252.2 564.2 250.8 565.0 250.2C565.7 249.6 567.1 249.0 567.7 249.1C568.4 249.2 569.0 250.0 568.8 250.8C568.6 251.5 567.4 252.9 566.6 253.5C565.9 254.2 565.0 254.7 564.4 254.6C563.8 254.5 563.2 253.7 563.3 253.0Z M571.6 269.0C563.1 268.5 572.9 266.5 574.9 265.7C576.9 264.9 580.8 264.7 583.8 264.0C586.7 263.4 589.7 262.5 592.6 261.8C595.6 261.2 598.9 260.6 601.5 260.2C604.0 259.7 606.3 258.9 608.1 259.1C609.9 259.2 610.7 260.7 612.5 261.3C614.4 261.8 617.1 261.8 619.2 262.4C621.2 262.9 623.2 263.9 624.7 264.6C626.2 265.2 627.8 265.5 628.0 266.2C628.2 267.0 635.2 268.5 625.8 269.0C616.4 269.5 580.1 269.6 571.6 269.0Z M553.9 253.0C554.4 252.4 556.3 253.0 556.7 253.5C557.0 254.1 556.6 255.7 556.1 256.3C555.6 256.8 554.3 257.4 553.9 256.8C553.5 256.3 553.4 253.5 553.9 253.0Z M261.6 284.1C262.2 283.0 264.2 283.0 266.1 283.0C267.9 283.0 270.7 283.8 272.7 284.1C274.7 284.4 277.1 283.9 278.2 284.7C279.3 285.4 279.5 287.3 279.3 288.5C279.2 289.8 278.4 291.4 277.1 292.4C275.8 293.4 273.4 294.4 271.6 294.6C269.7 294.8 267.5 294.4 266.1 293.5C264.6 292.7 263.5 291.2 262.7 289.7C262.0 288.1 261.1 285.2 261.6 284.1Z M256.7 307.9C257.4 306.9 260.2 307.4 261.1 307.9C262.0 308.5 262.0 310.2 261.9 311.2C261.8 312.2 261.4 313.5 260.5 314.0C259.7 314.5 257.3 315.0 256.7 314.0C256.0 313.0 255.9 308.9 256.7 307.9Z M445.7 264.2C445.7 263.7 446.6 264.0 447.4 265.3C448.1 266.6 449.5 270.3 450.1 272.0C450.8 273.6 451.3 275.1 451.2 275.3C451.1 275.5 450.2 274.2 449.6 273.1C448.9 272.0 448.0 270.1 447.4 268.6C446.7 267.2 445.7 264.8 445.7 264.2Z M452.3 305.7C452.3 304.4 451.8 305.7 452.3 305.7C452.9 305.7 455.1 304.3 455.7 305.7C456.2 307.1 456.2 312.7 455.7 314.0C455.1 315.3 452.9 313.5 452.3 313.4C451.8 313.3 452.3 314.7 452.3 313.4C452.3 312.1 452.3 307.0 452.3 305.7Z M473.8 265.3C473.8 264.2 475.8 263.3 477.1 263.1C478.4 262.9 480.4 263.5 481.5 264.2C482.7 264.9 483.8 266.5 483.8 267.5C483.8 268.5 482.7 269.9 481.5 270.3C480.4 270.7 478.4 270.6 477.1 269.7C475.8 268.9 473.8 266.4 473.8 265.3Z M488.2 267.5C488.4 266.7 489.8 266.4 490.4 267.0C491.0 267.5 491.7 270.0 491.5 270.8C491.3 271.7 489.8 272.5 489.3 272.0C488.7 271.4 488.0 268.4 488.2 267.5Z M492.6 266.4C492.9 265.9 494.5 266.6 495.4 267.5C496.3 268.5 497.1 271.0 498.1 272.0C499.2 272.9 500.7 272.5 501.5 273.1C502.2 273.6 503.1 275.0 502.6 275.3C502.0 275.6 499.6 275.5 498.1 274.7C496.7 274.0 494.6 272.2 493.7 270.8C492.8 269.5 492.3 267.0 492.6 266.4Z M476.6 317.3C475.8 315.7 476.5 312.5 477.1 310.7C477.8 308.8 478.8 307.4 480.4 306.2C482.1 305.1 484.9 304.6 487.1 304.0C489.3 303.5 491.9 302.6 493.7 302.9C495.6 303.3 497.0 304.8 498.1 306.2C499.2 307.7 500.2 309.9 500.4 311.8C500.5 313.6 500.2 315.8 499.2 317.3C498.3 318.8 496.7 320.0 494.8 320.6C493.0 321.3 490.4 321.3 488.2 321.2C486.0 321.1 483.5 320.7 481.5 320.1C479.6 319.4 477.3 318.9 476.6 317.3Z M453.9 307.4C454.5 306.2 456.8 306.8 457.8 307.4C458.7 307.9 459.6 309.6 459.6 310.7C459.7 311.8 459.3 313.3 458.3 314.0C457.4 314.6 454.6 315.7 453.9 314.5C453.2 313.4 453.2 308.6 453.9 307.4Z M502.4 309.1C501.9 305.2 502.6 291.1 503.2 285.5C503.8 279.9 504.7 277.7 505.7 275.4C506.7 273.2 507.1 273.0 509.1 272.1C511.0 271.1 515.0 269.8 517.5 269.5C520.0 269.3 522.0 269.7 524.2 270.4C526.5 271.1 528.4 273.6 531.0 273.7C533.5 273.9 536.6 271.5 539.4 271.2C542.2 270.9 544.7 271.6 547.8 272.1C550.9 272.5 553.7 273.7 557.9 273.7C562.1 273.7 570.5 272.3 573.0 272.1C575.5 271.8 573.0 267.3 573.0 272.1C573.0 276.8 573.0 295.9 573.0 300.7C573.0 305.4 575.0 300.7 573.0 300.7C571.1 300.7 564.3 300.4 561.2 300.7C558.2 301.0 556.8 301.8 554.5 302.4C552.3 302.9 550.0 303.3 547.8 304.0C545.5 304.7 543.3 305.9 541.1 306.6C538.8 307.3 536.6 307.7 534.3 308.2C532.1 308.8 529.8 310.1 527.6 309.9C525.4 309.8 523.1 308.4 520.9 307.4C518.6 306.4 516.1 304.3 514.1 304.0C512.2 303.8 510.5 304.9 509.1 305.7C507.7 306.6 506.8 308.5 505.7 309.1C504.6 309.6 502.8 313.0 502.4 309.1Z M508.1 322.3L509.8 322.3L509.4 335.0L507.9 335.0Z M553.9 272.0C555.2 267.0 558.9 270.6 561.6 269.7C564.4 268.9 567.9 267.8 570.5 267.0C573.1 266.1 574.5 265.2 577.1 264.8C579.7 264.3 583.0 264.9 586.0 264.2C588.9 263.6 588.9 261.4 594.8 260.9C600.7 260.3 616.0 260.2 621.4 260.9C626.7 261.6 626.9 264.2 626.9 265.3C626.9 266.4 623.4 267.1 621.4 267.5C619.3 268.0 616.6 267.5 614.7 268.1C612.9 268.6 612.0 269.7 610.3 270.8C608.7 272.0 606.6 273.8 604.8 275.3C602.9 276.7 601.1 278.2 599.2 279.7C597.4 281.2 595.6 282.3 593.7 284.1C591.9 286.0 590.0 288.7 588.2 290.8C586.3 292.8 584.5 294.4 582.7 296.3C580.8 298.1 579.0 300.3 577.1 301.8C575.3 303.3 573.3 305.0 571.6 305.1C569.9 305.3 568.3 304.0 567.2 302.9C566.1 301.8 566.1 299.4 565.0 298.5C563.8 297.6 562.4 297.2 560.5 297.4C558.7 297.6 555.0 303.9 553.9 299.6C552.8 295.4 552.6 276.9 553.9 272.0Z M634.1 295.2C634.5 294.3 635.7 292.9 636.9 291.9C638.1 290.9 639.3 289.7 641.3 289.1C643.3 288.5 647.7 286.2 649.0 288.0C650.3 289.7 650.1 297.6 649.0 299.6C647.9 301.6 644.4 300.3 642.4 300.2C640.4 300.1 638.1 299.5 636.9 299.1C635.6 298.6 635.1 298.0 634.6 297.4C634.2 296.8 633.7 296.1 634.1 295.2Z M643.5 271.4C644.1 270.4 648.1 269.8 649.0 270.8C649.9 271.9 649.7 276.5 649.0 277.5C648.4 278.5 646.1 277.9 645.2 276.9C644.2 275.9 642.9 272.4 643.5 271.4Z M627.5 320.1C627.6 319.4 629.1 318.8 629.7 319.0C630.2 319.2 631.0 320.5 630.8 321.2C630.6 321.8 629.1 323.0 628.6 322.8C628.0 322.7 627.3 320.7 627.5 320.1Z M636.3 318.4C636.5 317.8 638.1 316.8 639.1 316.2C640.0 315.7 641.5 314.8 641.8 315.1C642.2 315.4 641.9 317.0 641.3 317.9C640.6 318.7 638.8 320.0 638.0 320.1C637.1 320.2 636.1 319.1 636.3 318.4Z M273.8 361.2C274.3 360.4 275.6 359.2 277.1 358.4C278.6 357.6 281.2 357.4 282.7 356.2C284.1 355.0 284.7 352.7 286.0 351.2C287.3 349.8 288.7 348.4 290.4 347.4C292.1 346.3 294.1 345.4 295.9 345.1C297.8 344.9 299.9 345.2 301.5 345.7C303.0 346.2 304.6 347.0 305.3 347.9C306.1 348.8 306.5 350.2 305.9 351.2C305.2 352.2 303.3 353.4 301.5 354.0C299.6 354.6 297.0 354.4 294.8 355.1C292.6 355.8 290.4 357.5 288.2 358.4C286.0 359.3 283.4 359.8 281.5 360.6C279.7 361.5 278.3 362.9 277.1 363.4C275.9 363.9 274.9 363.8 274.4 363.4C273.8 363.0 273.3 362.0 273.8 361.2Z M268.3 361.7C268.5 361.3 269.9 360.8 270.5 361.0C271.0 361.1 271.8 362.1 271.6 362.5C271.4 363.0 269.9 363.7 269.4 363.6C268.8 363.5 268.1 362.2 268.3 361.7Z M256.1 360.1C256.9 359.4 259.9 359.7 261.1 360.1C262.2 360.4 263.0 361.6 263.0 362.3C263.0 362.9 262.2 363.7 261.1 364.0C259.9 364.2 256.9 364.6 256.1 364.0C255.3 363.3 255.3 360.7 256.1 360.1Z M320.0 350.7C320.5 350.2 324.0 349.9 324.7 350.1C325.4 350.3 324.6 351.3 324.1 351.8C323.7 352.2 322.6 353.1 321.9 352.9C321.2 352.7 319.6 351.1 320.0 350.7Z M369.4 393.3C357.6 392.5 369.2 389.9 370.5 388.8C371.8 387.7 374.5 387.6 377.1 386.6C379.7 385.7 383.8 384.5 386.0 383.3C388.2 382.1 388.6 380.3 390.4 379.4C392.2 378.6 395.0 378.6 397.0 378.3C399.1 378.1 400.4 377.7 402.6 377.8C404.8 377.9 407.7 378.6 410.3 378.9C412.9 379.2 415.8 379.1 418.1 379.4C420.3 379.8 421.7 380.3 423.6 381.1C425.4 381.9 427.3 383.3 429.1 384.4C431.0 385.5 433.0 386.8 434.6 387.7C436.3 388.7 438.0 389.0 439.1 389.9C440.2 390.9 452.9 392.7 441.3 393.3C429.7 393.8 381.2 394.0 369.4 393.3Z M361.1 382.2L362.2 382.2L362.2 386.6L361.1 386.6Z M366.1 381.7L367.7 381.7L367.7 386.6L366.1 386.6Z M372.1 381.1L374.4 381.1L374.4 388.3L372.1 388.3Z M376.0 381.1L377.7 381.1L377.7 387.7L376.0 387.7Z M380.4 380.5L382.1 380.5L382.1 387.7L380.4 387.7Z M384.3 380.0L386.5 380.0L386.5 387.7L384.3 387.7Z M447.9 389.9C448.4 388.7 449.5 385.8 450.1 385.5C450.8 385.2 451.4 387.0 451.8 388.3C452.2 389.6 453.1 392.4 452.3 393.3C451.6 394.1 448.1 393.8 447.4 393.3C446.6 392.7 447.5 391.2 447.9 389.9Z M521.9 343.5C522.5 342.9 524.2 344.0 525.8 344.6C527.4 345.1 529.7 345.9 531.3 346.8C533.0 347.7 534.8 349.0 535.8 350.1C536.7 351.2 537.2 352.7 536.9 353.4C536.5 354.2 534.6 354.7 533.5 354.5C532.4 354.4 531.1 352.5 530.2 352.3C529.3 352.2 528.9 353.5 528.0 353.4C527.1 353.4 525.6 352.7 524.7 351.8C523.8 350.9 522.9 349.3 522.5 347.9C522.0 346.5 521.4 344.0 521.9 343.5Z M477.1 376.7C477.5 375.6 479.0 374.5 480.4 374.5C481.9 374.5 484.1 376.7 486.0 376.7C487.8 376.7 489.8 375.2 491.5 374.5C493.2 373.7 494.6 373.5 495.9 372.2C497.2 371.0 498.2 368.2 499.2 366.7C500.3 365.2 501.3 363.2 502.0 363.4C502.8 363.6 502.8 366.0 503.7 367.8C504.5 369.7 505.7 372.4 507.0 374.5C508.3 376.5 509.9 378.1 511.4 380.0C512.9 381.8 514.4 383.9 515.8 385.5C517.3 387.2 519.2 388.7 520.3 389.9C521.4 391.2 522.1 392.7 522.5 393.3C522.8 393.8 529.3 393.3 522.5 393.3C515.7 393.3 488.4 393.3 481.5 393.3C474.7 393.3 481.7 394.6 481.5 393.3C481.4 392.0 481.0 387.6 480.4 385.5C479.9 383.5 478.8 382.6 478.2 381.1C477.7 379.6 476.8 377.8 477.1 376.7Z M457.8 361.2C458.0 360.4 459.0 359.3 460.0 359.0C461.0 358.6 462.8 358.6 463.8 359.0C464.9 359.3 465.9 360.3 466.1 361.2C466.2 362.1 465.9 363.8 465.0 364.5C464.0 365.2 461.6 365.7 460.5 365.6C459.4 365.5 458.8 364.7 458.3 364.0C457.9 363.2 457.5 362.0 457.8 361.2Z M467.2 376.7C467.4 376.3 468.5 375.9 468.8 376.1C469.2 376.3 469.6 377.4 469.4 377.8C469.2 378.1 468.1 378.5 467.7 378.3C467.4 378.1 467.0 377.0 467.2 376.7Z M453.9 383.3C454.4 382.8 456.2 383.4 456.7 383.9C457.1 384.3 457.1 385.6 456.7 386.1C456.2 386.5 454.4 387.1 453.9 386.6C453.4 386.2 453.4 383.8 453.9 383.3Z M638.0 368.4C638.6 368.1 641.3 369.1 642.4 368.9C643.5 368.7 643.5 367.6 644.6 367.3C645.7 366.9 648.3 366.2 649.0 366.7C649.8 367.3 650.3 369.9 649.0 370.6C647.7 371.3 643.0 370.9 641.3 370.9C639.5 370.9 639.1 371.0 638.5 370.6C638.0 370.2 637.3 368.7 638.0 368.4Z"/>
<path fill="#ff9600" d="M271.6 206.0C272.0 204.8 274.9 203.7 277.1 202.6C279.3 201.6 282.3 200.1 284.9 199.9C287.4 199.6 290.6 200.1 292.6 201.0C294.6 201.8 296.5 203.4 297.0 204.8C297.6 206.3 297.2 208.5 295.9 209.8C294.6 211.1 291.7 212.3 289.3 212.6C286.9 212.9 283.9 211.9 281.5 211.5C279.2 211.0 276.6 210.7 274.9 209.8C273.3 208.9 271.2 207.2 271.6 206.0Z M350.1 210.4C350.1 209.4 351.3 208.6 352.3 208.2C353.3 207.7 355.5 207.7 356.1 207.6C356.7 207.5 356.1 206.4 356.1 207.6C356.1 208.8 356.1 213.6 356.1 214.8C356.1 216.0 356.7 214.9 356.1 214.8C355.5 214.7 353.3 215.0 352.3 214.3C351.3 213.5 350.1 211.4 350.1 210.4Z M416.9 179.8C417.3 178.3 419.2 179.6 420.3 178.7C421.4 177.8 422.9 175.9 423.6 174.2C424.2 172.6 423.6 169.3 424.1 168.7C424.7 168.2 425.7 169.6 426.9 170.9C428.1 172.2 430.0 174.8 431.3 176.5C432.6 178.1 433.8 180.9 434.6 180.9C435.5 180.9 435.8 177.8 436.3 176.5C436.9 175.2 437.0 173.5 438.0 173.1C439.0 172.8 440.9 174.6 442.4 174.2C443.9 173.9 445.3 171.7 446.8 170.9C448.3 170.2 449.9 170.4 451.2 169.8C452.6 169.3 454.2 168.0 455.0 167.6C455.8 167.2 455.9 167.6 456.1 167.6C456.3 167.6 456.1 165.2 456.1 167.6C456.1 170.0 456.1 179.6 456.1 182.0C456.1 184.4 456.9 181.6 456.1 182.0C455.3 182.4 452.8 183.7 451.2 184.2C449.7 184.8 448.3 184.6 446.8 185.3C445.3 186.0 443.9 188.6 442.4 188.6C440.9 188.6 439.0 185.1 438.0 185.3C437.0 185.5 436.9 188.4 436.3 189.7C435.8 191.0 435.5 192.7 434.6 193.1C433.8 193.4 432.6 191.6 431.3 191.9C430.0 192.3 428.2 194.3 426.9 195.3C425.6 196.2 424.7 197.7 423.6 197.5C422.5 197.3 421.2 195.8 420.3 194.2C419.3 192.5 418.6 189.9 418.1 187.5C417.5 185.1 416.6 181.3 416.9 179.8Z M453.9 169.3C455.0 167.5 458.3 169.7 460.5 169.8C462.7 170.0 465.2 169.3 467.2 170.0C469.1 170.8 471.2 172.8 472.1 174.2C473.1 175.7 473.2 177.3 472.7 178.7C472.2 180.0 471.2 181.7 469.4 182.2C467.5 182.7 464.2 182.1 461.6 181.8C459.1 181.5 455.2 182.4 453.9 180.3C452.6 178.2 452.8 171.0 453.9 169.3Z M353.9 207.6C354.4 206.6 356.3 208.0 357.2 208.7C358.1 209.5 359.4 211.1 359.4 212.0C359.4 213.0 358.1 213.8 357.2 214.3C356.3 214.7 354.4 215.9 353.9 214.8C353.3 213.7 353.3 208.6 353.9 207.6Z M426.9 194.9C427.6 195.4 426.5 197.2 425.8 197.7C425.1 198.1 423.2 198.1 422.5 197.7C421.7 197.2 420.6 195.4 421.4 194.9C422.1 194.4 426.2 194.4 426.9 194.9Z M275.8 258.5C275.8 258.2 276.3 257.7 276.6 257.7C276.8 257.7 277.3 258.2 277.3 258.5C277.3 258.8 276.8 259.3 276.6 259.3C276.3 259.3 275.8 258.8 275.8 258.5Z M515.3 248.0C515.4 246.9 516.4 244.7 516.9 243.6C517.5 242.5 518.4 241.0 518.6 241.4C518.8 241.7 518.4 244.3 518.1 245.8C517.7 247.3 516.9 249.8 516.4 250.2C515.9 250.6 515.2 249.1 515.3 248.0Z M524.1 248.0C524.4 246.9 525.7 244.5 526.3 243.6C527.0 242.6 527.9 242.1 528.0 242.5C528.1 242.8 527.5 244.5 526.9 245.8C526.3 247.1 525.2 249.8 524.7 250.2C524.2 250.6 523.9 249.1 524.1 248.0Z M532.4 235.8C532.5 235.5 534.4 233.6 534.6 233.6C534.9 233.6 534.5 235.5 534.1 235.8C533.7 236.2 532.3 236.2 532.4 235.8Z M256.1 279.7C256.8 278.2 259.0 279.1 260.0 279.7C261.0 280.3 261.7 281.8 262.2 283.0C262.7 284.2 262.9 286.0 262.7 286.9C262.6 287.8 262.2 288.3 261.1 288.5C260.0 288.8 256.9 290.0 256.1 288.5C255.3 287.1 255.5 281.2 256.1 279.7Z M258.3 308.5C258.6 308.1 259.7 308.6 260.0 309.0C260.3 309.5 260.3 310.9 260.0 311.2C259.7 311.6 258.6 311.7 258.3 311.2C258.0 310.8 258.0 308.8 258.3 308.5Z M489.3 308.5C489.5 307.9 490.2 307.9 490.4 308.5C490.6 309.0 490.6 311.2 490.4 311.8C490.2 312.3 489.5 312.3 489.3 311.8C489.1 311.2 489.1 309.0 489.3 308.5Z M492.6 307.4C492.9 306.5 494.5 305.9 494.8 306.2C495.2 306.6 495.1 308.7 494.8 309.6C494.5 310.4 493.5 311.6 493.2 311.2C492.8 310.9 492.3 308.2 492.6 307.4Z M503.2 302.4C502.9 299.0 503.3 289.7 504.0 285.5C504.7 281.3 505.7 279.2 507.4 277.1C509.1 275.0 511.9 273.7 514.1 272.9C516.4 272.1 518.9 271.8 520.9 272.1C522.8 272.3 524.2 273.7 525.9 274.6C527.6 275.4 529.0 277.1 531.0 277.1C532.9 277.1 534.9 274.9 537.7 274.6C540.5 274.3 544.7 274.9 547.8 275.4C550.9 275.9 554.8 277.3 556.2 277.6C557.6 278.0 556.2 274.3 556.2 277.6C556.2 280.9 556.2 294.0 556.2 297.3C556.2 300.6 557.0 297.0 556.2 297.3C555.4 297.6 553.1 298.4 551.2 299.0C549.2 299.5 546.4 300.1 544.4 300.7C542.5 301.2 541.1 301.8 539.4 302.4C537.7 302.9 536.3 303.3 534.3 304.0C532.4 304.7 529.8 306.6 527.6 306.6C525.4 306.6 523.1 305.0 520.9 304.0C518.6 303.1 516.1 301.0 514.1 300.7C512.2 300.4 510.5 301.5 509.1 302.4C507.7 303.2 506.7 305.7 505.7 305.7C504.7 305.7 503.5 305.7 503.2 302.4Z M502.3 306.2L503.7 306.2L502.8 335.0L501.5 335.0Z M553.9 277.5C554.8 274.4 557.4 276.3 559.4 276.4C561.5 276.5 564.2 277.5 566.1 278.0C567.9 278.6 570.1 278.9 570.5 279.7C570.9 280.5 569.2 281.7 568.3 283.0C567.4 284.3 566.1 286.0 565.0 287.4C563.8 288.9 562.9 290.8 561.6 291.9C560.3 293.0 558.5 293.5 557.2 294.1C555.9 294.6 554.4 298.0 553.9 295.2C553.3 292.4 553.0 280.6 553.9 277.5Z M575.5 285.2C575.6 284.1 575.9 282.3 577.1 280.8C578.3 279.3 580.8 277.9 582.7 276.4C584.5 274.8 586.8 272.0 588.2 271.4C589.6 270.8 591.0 272.0 591.0 273.1C591.0 274.1 589.4 275.8 588.2 277.5C587.0 279.1 585.2 281.5 583.8 283.0C582.3 284.6 580.5 286.2 579.3 286.9C578.1 287.6 577.2 287.7 576.6 287.4C575.9 287.2 575.4 286.3 575.5 285.2Z M640.2 294.1C640.5 293.2 641.5 292.0 642.9 291.3C644.4 290.7 648.0 289.2 649.0 290.2C650.0 291.2 649.9 296.2 649.0 297.4C648.1 298.6 644.9 297.8 643.5 297.6C642.1 297.4 641.3 296.9 640.7 296.3C640.2 295.7 639.8 294.9 640.2 294.1Z M399.2 383.9L400.4 383.9L400.4 386.1L399.2 386.1Z M404.8 383.3L406.4 383.3L406.4 387.7L404.8 387.7Z M411.4 383.3L412.5 383.3L412.5 387.7L411.4 387.7Z M484.3 380.0C484.7 378.5 486.8 378.0 488.2 377.8C489.6 377.6 491.1 379.3 492.6 378.9C494.1 378.5 495.6 376.9 497.0 375.6C498.5 374.3 500.4 371.7 501.5 371.1C502.6 370.6 502.8 371.3 503.7 372.2C504.6 373.2 505.9 375.2 507.0 376.7C508.1 378.1 509.0 379.4 510.3 381.1C511.6 382.8 513.4 384.6 514.7 386.6C516.0 388.7 517.5 392.2 518.1 393.3C518.6 394.4 523.2 393.3 518.1 393.3C512.9 393.3 492.2 393.3 487.1 393.3C481.9 393.3 487.3 394.4 487.1 393.3C486.9 392.2 486.4 388.8 486.0 386.6C485.5 384.4 483.9 381.5 484.3 380.0Z M501.2 326.9L502.3 326.9L502.1 334.6L501.2 334.6Z M508.1 326.9L509.8 326.9L509.5 341.3L508.3 341.3Z"/>
<path fill="#ff6400" d="M426.9 176.5C427.2 175.7 428.2 176.5 429.1 177.6C430.0 178.7 431.6 181.3 432.4 183.1C433.3 184.9 434.1 187.3 434.1 188.6C434.1 189.9 433.3 191.0 432.4 190.8C431.6 190.7 429.9 189.0 429.1 187.5C428.3 186.0 427.8 183.8 427.5 182.0C427.1 180.1 426.6 177.2 426.9 176.5Z M421.6 190.8C421.6 190.4 422.2 189.7 422.5 189.7C422.8 189.7 423.4 190.4 423.4 190.8C423.4 191.2 422.8 192.2 422.5 192.2C422.2 192.2 421.6 191.2 421.6 190.8Z M438.5 180.3C438.5 179.9 439.2 179.0 439.6 179.0C440.0 179.0 441.0 179.9 441.0 180.3C441.0 180.8 440.0 181.8 439.6 181.8C439.2 181.8 438.5 180.8 438.5 180.3Z M258.9 281.4C259.1 280.7 260.2 281.7 260.5 282.5C260.9 283.2 261.3 285.1 261.1 285.8C260.9 286.4 259.8 287.1 259.4 286.3C259.1 285.6 258.7 282.0 258.9 281.4Z M504.0 297.3C504.2 294.8 504.3 290.0 504.9 287.2C505.4 284.4 506.1 282.2 507.4 280.5C508.7 278.8 510.8 277.4 512.4 277.1C514.1 276.8 516.0 278.9 517.5 278.8C519.0 278.7 520.3 276.4 521.7 276.3C523.1 276.1 524.4 277.3 525.9 278.0C527.5 278.7 529.0 280.5 531.0 280.5C532.9 280.5 535.2 278.2 537.7 278.0C540.2 277.7 543.6 278.2 546.1 278.8C548.6 279.4 551.2 280.2 552.8 281.3C554.5 282.4 555.8 284.0 556.2 285.5C556.6 287.1 556.2 289.3 555.4 290.6C554.5 291.8 553.0 292.4 551.2 293.1C549.3 293.8 546.7 294.2 544.4 294.8C542.2 295.3 539.7 295.8 537.7 296.5C535.7 297.2 534.3 298.0 532.6 299.0C531.0 300.0 529.3 302.1 527.6 302.4C525.9 302.6 524.2 301.5 522.5 300.7C520.9 299.8 519.2 297.9 517.5 297.3C515.8 296.7 514.1 296.7 512.4 297.3C510.8 297.9 508.8 299.8 507.4 300.7C506.0 301.5 504.6 302.9 504.0 302.4C503.5 301.8 503.9 299.8 504.0 297.3Z M553.9 281.4C554.4 280.2 556.1 281.5 556.7 282.5C557.2 283.5 557.5 286.2 557.0 287.4C556.5 288.6 554.4 290.7 553.9 289.7C553.4 288.6 553.4 282.6 553.9 281.4Z M643.5 293.0C643.8 292.5 644.9 292.1 645.2 292.4C645.4 292.8 645.4 294.7 645.2 295.2C644.9 295.6 643.8 295.6 643.5 295.2C643.2 294.8 643.2 293.4 643.5 293.0Z M507.0 393.3C505.4 392.0 507.2 387.9 507.5 385.5C507.9 383.1 508.6 379.6 509.2 378.9C509.8 378.1 510.7 380.0 511.4 381.1C512.2 382.2 512.9 383.9 513.6 385.5C514.4 387.2 515.3 389.8 515.8 391.1C516.4 392.3 518.4 392.9 516.9 393.3C515.5 393.6 508.6 394.6 507.0 393.3Z M488.2 382.2C488.6 381.9 490.8 382.8 491.5 383.3C492.2 383.9 493.0 385.2 492.6 385.5C492.2 385.8 490.0 385.5 489.3 385.0C488.6 384.4 487.8 382.5 488.2 382.2Z"/>
<path fill="#ff1414" d="M515.8 288.9C515.8 287.1 516.5 285.0 517.5 283.8C518.5 282.7 520.6 281.8 521.7 281.8C522.8 281.8 523.6 282.4 523.9 283.8C524.2 285.3 523.8 288.8 523.4 290.6C523.0 292.4 522.7 294.1 521.7 294.8C520.7 295.5 518.5 295.8 517.5 294.8C516.5 293.8 515.8 290.7 515.8 288.9Z M530.6 286.4C530.7 285.1 532.1 282.9 533.0 282.5C533.8 282.1 535.3 282.8 535.7 283.8C536.0 284.9 535.7 287.8 535.2 288.9C534.6 290.0 533.1 290.7 532.3 290.2C531.5 289.8 530.5 287.7 530.6 286.4Z M525.6 293.1L526.8 293.1L526.8 296.5L525.6 296.5Z"/>
<path fill="#00f0ff" d="M258.3 170.9C258.7 169.3 260.3 167.6 261.6 166.5C262.9 165.4 264.4 164.1 266.1 164.3C267.7 164.5 269.7 166.8 271.6 167.6C273.4 168.4 275.1 169.4 277.1 169.3C279.2 169.2 281.4 167.6 283.8 167.1C286.2 166.5 288.9 166.0 291.5 166.0C294.1 165.9 297.4 165.9 299.2 166.5C301.1 167.1 302.1 168.2 302.6 169.8C303.0 171.5 302.6 174.2 302.0 176.5C301.5 178.7 301.0 181.2 299.2 183.1C297.5 185.0 294.3 187.2 291.5 188.1C288.7 189.0 285.2 189.1 282.7 188.6C280.1 188.2 277.9 186.8 276.0 185.3C274.2 183.8 273.3 181.0 271.6 179.8C269.9 178.6 268.1 178.7 266.1 178.1C264.0 177.6 260.7 177.7 259.4 176.5C258.1 175.3 257.9 172.6 258.3 170.9Z M260.0 231.4C260.2 229.8 262.8 228.6 265.0 227.5C267.1 226.4 270.1 225.6 272.7 224.8C275.3 223.9 277.5 222.6 280.4 222.5C283.4 222.5 287.6 223.3 290.4 224.2C293.2 225.1 294.8 226.9 297.0 228.1C299.2 229.3 302.3 230.4 303.7 231.4C305.1 232.4 305.7 233.1 305.3 234.2C305.0 235.2 303.0 236.7 301.5 237.5C299.9 238.2 298.1 238.6 295.9 238.6C293.7 238.6 291.0 237.4 288.2 237.5C285.4 237.6 282.1 238.5 279.3 239.1C276.6 239.8 273.7 241.1 271.6 241.4C269.5 241.6 267.9 241.5 266.6 240.8C265.3 240.1 265.0 238.5 263.8 236.9C262.7 235.4 259.8 233.0 260.0 231.4Z M353.9 174.8C355.0 174.3 357.0 174.7 358.3 175.4C359.6 176.0 360.6 177.0 361.6 178.7C362.7 180.3 364.2 183.1 364.4 185.3C364.6 187.5 363.8 190.4 362.7 191.9C361.7 193.5 359.8 194.3 358.3 194.7C356.8 195.1 355.0 194.9 353.9 194.2C352.8 193.4 352.2 191.9 351.7 190.3C351.2 188.6 351.0 186.2 351.0 184.2C351.1 182.2 351.4 179.7 351.9 178.1C352.4 176.6 352.8 175.3 353.9 174.8Z M384.9 130.0C385.7 130.7 385.1 133.4 384.9 134.4C384.6 135.5 383.9 136.2 383.2 136.4C382.5 136.6 381.0 136.6 380.4 135.5C379.9 134.5 379.2 130.9 379.9 130.0C380.6 129.1 384.0 129.3 384.9 130.0Z M393.2 150.5C393.4 150.0 394.4 150.4 395.4 151.6C396.4 152.8 398.0 155.5 399.2 157.7C400.4 159.8 402.3 163.0 402.6 164.3C402.8 165.6 401.8 166.0 400.9 165.4C400.0 164.8 398.2 162.8 397.0 161.0C395.8 159.1 394.4 156.1 393.7 154.3C393.1 152.6 392.9 150.9 393.2 150.5Z M442.4 128.9C447.6 130.6 442.9 136.1 443.5 138.8C444.0 141.6 444.9 142.9 445.7 145.5C446.5 148.1 448.3 151.9 448.5 154.3C448.7 156.7 447.6 160.8 446.8 159.9C446.0 158.9 444.8 152.3 443.5 148.8C442.2 145.3 440.0 138.7 439.1 138.8C438.1 139.0 438.0 146.4 438.0 149.9C438.0 153.4 439.3 158.6 439.1 159.9C438.9 161.2 438.0 159.5 436.9 157.7C435.8 155.8 433.9 150.6 432.4 148.8C431.0 147.0 428.5 145.7 428.0 146.6C427.5 147.5 429.0 152.1 429.7 154.3C430.3 156.5 431.6 157.8 431.9 159.9C432.2 161.9 432.0 166.1 431.3 166.5C430.7 166.9 428.9 163.7 428.0 162.1C427.1 160.4 426.7 158.0 425.8 156.5C424.9 155.1 423.6 154.9 422.5 153.2C421.4 151.6 420.4 149.2 419.2 146.6C418.0 144.0 416.5 140.7 415.3 137.7C414.1 134.8 407.5 130.4 412.0 128.9C416.5 127.4 437.1 127.2 442.4 128.9Z M450.1 146.6C450.6 144.9 452.6 142.2 453.5 141.1C454.3 140.0 454.6 140.1 455.0 140.0C455.4 139.8 455.9 140.0 456.1 140.0C456.3 140.0 456.1 137.3 456.1 140.0C456.1 142.6 456.1 153.3 456.1 156.0C456.1 158.7 456.5 156.2 456.1 156.0C455.7 155.8 454.4 155.7 453.5 154.9C452.5 154.1 451.2 152.4 450.7 151.0C450.1 149.6 449.7 148.3 450.1 146.6Z M498.1 165.4C498.1 164.4 499.2 163.1 500.4 162.1C501.5 161.1 502.8 160.1 504.8 159.3C506.8 158.6 509.8 158.3 512.5 157.7C515.3 157.0 518.4 155.8 521.4 155.4C524.3 155.1 528.1 155.1 530.2 155.7C532.3 156.2 533.6 157.5 534.1 158.8C534.6 160.0 533.8 161.9 533.0 163.2C532.2 164.5 531.1 165.6 529.1 166.5C527.2 167.4 523.8 168.1 521.4 168.7C519.0 169.3 517.1 170.0 514.7 170.0C512.3 170.1 509.4 169.6 507.0 169.3C504.6 169.0 501.8 168.8 500.4 168.2C498.9 167.5 498.1 166.4 498.1 165.4Z M537.4 159.3C537.6 158.5 538.6 158.3 538.8 159.0C539.1 159.6 539.3 162.4 539.1 163.2C538.9 164.0 538.0 164.4 537.7 163.7C537.5 163.1 537.2 160.1 537.4 159.3Z M453.9 143.3C454.6 141.6 457.0 145.7 458.3 145.5C459.6 145.3 460.8 143.5 461.6 142.2C462.5 140.9 462.6 139.0 463.3 137.7C464.0 136.5 465.4 135.7 466.1 134.4C466.7 133.1 466.2 130.7 467.2 130.0C468.1 129.3 470.9 128.9 471.6 130.0C472.3 131.1 471.8 134.4 471.6 136.6C471.4 138.8 471.0 141.1 470.5 143.3C469.9 145.5 469.0 148.3 468.3 149.9C467.5 151.6 467.0 153.0 466.1 153.2C465.1 153.4 463.7 150.8 462.7 151.0C461.8 151.2 461.5 153.4 460.5 154.3C459.6 155.3 458.3 156.4 457.2 156.5C456.1 156.7 454.4 157.7 453.9 155.4C453.3 153.2 453.2 144.9 453.9 143.3Z M482.1 130.0C482.6 131.0 482.0 135.2 481.5 136.1C481.1 137.0 479.8 136.5 479.3 135.5C478.9 134.5 478.3 130.9 478.8 130.0C479.2 129.1 481.6 129.0 482.1 130.0Z M556.1 204.1C556.1 207.8 558.7 204.1 556.1 204.1C553.5 204.1 543.0 204.9 540.7 204.1C538.4 203.4 541.4 201.3 542.4 199.7C543.4 198.0 545.3 196.0 546.8 194.2C548.3 192.3 549.7 190.7 551.2 188.6C552.8 186.6 555.3 179.4 556.1 182.0C556.9 184.6 556.1 200.4 556.1 204.1Z M533.3 202.5C533.1 202.0 533.7 200.6 534.1 199.7C534.5 198.8 535.5 197.4 536.0 197.3C536.5 197.1 537.2 197.7 537.1 198.6C537.0 199.5 536.2 201.8 535.5 202.5C534.9 203.1 533.6 202.9 533.3 202.5Z M607.5 130.0C608.3 130.0 607.5 129.1 607.5 130.0C607.5 130.9 607.9 134.4 607.5 135.5C607.2 136.6 606.0 136.6 605.3 136.6C604.6 136.6 603.7 136.6 603.3 135.5C603.0 134.4 603.2 130.9 603.1 130.0C603.1 129.1 602.4 130.0 603.1 130.0C603.9 130.0 606.8 130.0 607.5 130.0Z M553.9 182.0C554.8 179.0 557.6 179.8 559.4 179.8C561.3 179.8 562.9 182.5 565.0 182.0C567.0 181.5 569.2 177.9 571.6 177.0C574.0 176.1 576.6 176.5 579.3 176.5C582.1 176.5 586.0 176.8 588.2 177.0C590.4 177.2 591.0 177.8 592.6 177.6C594.3 177.4 596.8 175.7 598.1 175.9C599.5 176.1 600.4 177.1 600.9 178.7C601.4 180.2 601.4 183.1 600.9 185.3C600.4 187.5 599.5 190.1 598.1 191.9C596.8 193.8 594.6 194.9 592.6 196.4C590.6 197.8 587.6 199.5 586.0 200.8C584.3 202.1 583.2 203.6 582.7 204.1C582.1 204.7 586.2 204.1 582.7 204.1C579.2 204.1 565.1 204.1 561.6 204.1C558.1 204.1 562.2 205.4 561.6 204.1C561.1 202.8 559.6 197.5 558.3 196.4C557.0 195.3 554.6 199.9 553.9 197.5C553.2 195.1 553.0 184.9 553.9 182.0Z M604.2 188.6C604.5 187.4 605.8 186.5 607.0 185.3C608.2 184.1 610.3 182.0 611.4 181.4C612.5 180.9 613.4 181.2 613.6 182.0C613.9 182.8 613.8 184.9 613.1 186.4C612.3 187.9 610.5 189.8 609.2 190.8C607.9 191.9 606.2 192.9 605.3 192.5C604.5 192.1 603.9 189.8 604.2 188.6Z M619.2 185.3C619.4 183.5 620.3 183.3 621.4 182.0C622.5 180.7 624.3 178.9 625.8 177.6C627.3 176.3 628.7 174.7 630.2 174.2C631.7 173.8 633.5 174.1 634.6 174.8C635.8 175.5 636.9 177.1 636.9 178.7C636.9 180.2 635.8 182.4 634.6 184.2C633.5 186.0 631.7 188.0 630.2 189.7C628.7 191.5 627.2 193.6 625.8 194.7C624.4 195.8 622.9 196.6 621.9 196.4C620.9 196.1 620.2 194.9 619.7 193.1C619.3 191.2 618.9 187.2 619.2 185.3Z M405.9 217.6C406.2 216.6 407.2 214.6 408.1 214.3C409.0 213.9 410.2 214.5 411.4 215.4C412.6 216.2 414.6 217.9 415.3 219.2C416.0 220.5 416.2 222.2 415.8 223.1C415.5 224.0 414.2 224.9 413.1 224.8C412.0 224.7 410.3 223.4 409.2 222.5C408.1 221.7 407.0 220.6 406.4 219.8C405.9 219.0 405.6 218.5 405.9 217.6Z M365.0 240.8C365.3 239.9 367.0 238.2 368.3 238.0C369.6 237.9 371.4 239.0 372.7 239.7C374.0 240.3 375.6 241.1 376.0 241.9C376.4 242.7 375.8 244.2 374.9 244.7C374.0 245.2 372.0 245.1 370.5 244.9C369.0 244.7 367.0 244.2 366.1 243.6C365.1 242.9 364.6 241.7 365.0 240.8Z M407.0 246.9C407.2 245.8 409.0 244.3 410.3 244.7C411.6 245.0 413.3 247.3 414.7 249.1C416.2 250.9 417.7 253.7 419.2 255.7C420.6 257.8 422.3 259.4 423.6 261.3C424.9 263.1 426.3 265.5 426.9 266.8C427.5 268.1 427.4 268.6 427.5 269.0C427.5 269.4 428.7 269.0 427.5 269.0C426.3 269.0 421.5 269.0 420.3 269.0C419.1 269.0 420.8 270.1 420.3 269.0C419.7 267.9 418.2 264.6 416.9 262.4C415.7 260.2 413.8 257.6 412.5 255.7C411.2 253.9 410.1 252.8 409.2 251.3C408.3 249.8 406.8 248.0 407.0 246.9Z M444.0 251.3C444.1 250.8 445.4 250.3 446.3 250.8C447.1 251.2 448.3 253.0 449.0 254.1C449.8 255.2 450.8 256.9 450.7 257.4C450.6 257.9 449.3 257.4 448.5 256.8C447.6 256.3 446.4 255.0 445.7 254.1C445.0 253.2 444.0 251.9 444.0 251.3Z M417.5 212.6C417.7 211.1 418.5 208.5 419.2 207.1C419.8 205.6 420.3 204.2 421.4 203.7C422.5 203.3 424.3 203.8 425.8 204.3C427.3 204.8 428.7 206.3 430.2 206.5C431.7 206.7 433.4 204.9 434.6 205.4C435.8 205.9 436.7 207.7 437.4 209.3C438.1 210.8 438.7 213.1 439.1 214.8C439.4 216.6 440.0 218.4 439.6 219.8C439.3 221.2 438.1 222.5 436.9 223.1C435.7 223.7 434.1 223.9 432.4 223.7C430.8 223.4 428.7 222.4 426.9 221.4C425.1 220.5 422.8 219.0 421.4 218.1C419.9 217.2 418.7 216.8 418.1 215.9C417.4 215.0 417.3 214.1 417.5 212.6Z M440.2 200.4C440.5 199.6 441.5 199.3 442.4 199.9C443.3 200.4 444.6 202.8 445.7 203.7C446.8 204.7 448.1 205.5 449.0 205.4C449.9 205.3 450.5 203.3 451.2 203.2C452.0 203.1 452.6 204.2 453.5 204.8C454.3 205.5 455.7 206.7 456.1 207.1C456.5 207.4 456.1 204.7 456.1 207.1C456.1 209.5 456.1 219.0 456.1 221.4C456.1 223.8 456.7 221.5 456.1 221.4C455.5 221.4 453.5 221.4 452.3 220.9C451.2 220.3 450.3 219.1 449.0 218.1C447.7 217.1 445.9 216.1 444.6 214.8C443.3 213.5 442.0 212.0 441.3 210.4C440.5 208.7 440.4 206.5 440.2 204.8C440.0 203.2 439.8 201.3 440.2 200.4Z M319.2 269.0C314.9 267.9 323.2 264.1 325.8 262.4C328.4 260.6 331.7 259.2 334.6 258.5C337.6 257.8 341.3 257.3 343.5 257.9C345.7 258.6 346.6 260.5 347.9 262.4C349.2 264.2 350.7 267.9 351.2 269.0C351.8 270.1 356.6 269.0 351.2 269.0C345.9 269.0 323.4 270.1 319.2 269.0Z M505.3 269.0C502.1 267.7 505.6 262.9 506.4 261.3C507.3 259.6 509.3 260.0 510.3 259.1C511.3 258.1 511.7 256.0 512.5 255.7C513.4 255.5 514.6 256.3 515.3 257.4C516.0 258.5 516.3 261.2 516.9 262.4C517.6 263.6 518.4 264.8 519.2 264.6C519.9 264.4 520.3 262.7 521.4 261.3C522.5 259.8 524.9 255.9 525.8 255.7C526.7 255.6 526.9 257.9 526.9 260.2C526.9 262.4 529.4 267.5 525.8 269.0C522.2 270.5 508.6 270.3 505.3 269.0Z M531.3 269.0C531.0 267.9 532.6 264.0 533.5 262.4C534.5 260.7 535.8 259.8 536.9 259.1C538.0 258.3 539.4 257.8 540.2 257.9C540.9 258.1 541.7 259.1 541.3 260.2C540.9 261.3 538.9 263.1 538.0 264.6C537.0 266.1 536.9 268.3 535.8 269.0C534.6 269.7 531.7 270.1 531.3 269.0Z M483.8 206.0C484.0 205.2 485.6 208.1 487.1 208.2C488.6 208.3 490.2 206.7 492.6 206.5C495.0 206.3 498.5 206.8 501.5 207.1C504.4 207.3 507.4 208.4 510.3 208.2C513.3 208.0 516.6 206.6 519.2 206.0C521.7 205.3 523.6 205.0 525.8 204.3C528.0 203.6 530.7 202.6 532.4 201.5C534.2 200.4 535.5 197.8 536.3 197.7C537.1 197.5 537.5 198.9 537.4 200.4C537.3 202.0 536.6 204.8 535.8 207.1C534.9 209.3 533.7 211.9 532.4 213.7C531.1 215.5 529.5 216.7 528.0 218.1C526.5 219.5 524.9 221.2 523.6 222.0C522.3 222.8 521.0 223.7 520.3 223.1C519.5 222.5 519.7 218.4 519.2 218.1C518.6 217.8 518.4 220.7 516.9 221.4C515.5 222.2 512.9 222.3 510.3 222.5C507.7 222.8 504.4 223.3 501.5 223.1C498.5 222.9 494.6 221.4 492.6 221.4C490.6 221.5 490.3 224.0 489.3 223.7C488.3 223.3 487.2 221.1 486.5 219.2C485.9 217.4 485.9 214.8 485.4 212.6C485.0 210.4 483.5 206.7 483.8 206.0Z M460.5 203.2C460.5 202.4 461.6 203.1 462.7 204.3C463.8 205.5 465.5 208.1 467.2 210.4C468.8 212.7 471.2 215.5 472.7 218.1C474.2 220.7 476.0 224.9 476.0 225.9C476.0 226.8 474.2 225.1 472.7 223.7C471.2 222.2 468.8 219.4 467.2 217.0C465.5 214.6 463.8 211.6 462.7 209.3C461.6 207.0 460.5 204.0 460.5 203.2Z M476.0 208.7C476.2 208.0 477.3 207.2 478.2 208.2C479.2 209.2 480.4 212.4 481.5 214.8C482.7 217.2 484.1 220.3 484.9 222.5C485.6 224.8 486.2 227.5 486.0 228.1C485.7 228.6 484.2 227.5 483.2 225.9C482.2 224.2 480.9 220.3 479.9 218.1C478.9 215.9 477.8 214.2 477.1 212.6C476.5 211.0 475.8 209.5 476.0 208.7Z M453.9 214.3C454.3 212.8 455.6 213.4 456.1 214.8C456.6 216.2 457.0 221.1 456.7 222.5C456.3 224.0 454.4 225.0 453.9 223.7C453.4 222.3 453.5 215.7 453.9 214.3Z M556.1 194.9C557.8 195.5 555.8 197.8 555.0 198.8C554.2 199.7 552.6 199.4 551.2 200.4C549.9 201.4 548.5 202.6 546.8 204.8C545.2 207.1 542.9 211.0 541.3 213.7C539.6 216.4 538.0 219.6 536.9 220.9C535.8 222.2 534.8 221.9 534.6 221.4C534.5 221.0 535.0 220.2 535.8 218.1C536.5 216.1 538.0 212.2 539.1 209.3C540.2 206.3 541.5 202.8 542.4 200.4C543.3 198.0 542.3 195.8 544.6 194.9C546.9 194.0 554.4 194.2 556.1 194.9Z M591.5 194.9C596.8 195.1 592.2 195.3 591.5 196.0C590.8 196.7 588.7 198.2 587.1 199.3C585.4 200.4 583.2 201.6 581.5 202.6C579.9 203.7 578.6 205.4 577.1 205.4C575.6 205.4 574.5 203.2 572.7 202.6C570.9 202.1 567.9 202.6 566.1 202.1C564.2 201.5 562.7 200.5 561.6 199.3C560.6 198.1 555.0 195.6 560.0 194.9C565.0 194.2 586.2 194.7 591.5 194.9Z M636.9 243.6C636.7 242.6 638.1 241.5 639.1 240.8C640.0 240.1 641.5 239.2 642.4 239.1C643.3 239.0 643.8 240.4 644.6 240.2C645.4 240.1 646.7 238.4 647.4 238.0C648.0 237.7 648.3 236.6 648.5 238.0C648.7 239.5 648.7 245.4 648.5 246.9C648.3 248.4 648.0 247.0 647.4 246.9C646.7 246.8 645.3 246.1 644.6 246.3C643.9 246.6 643.7 248.5 642.9 248.5C642.2 248.5 641.2 247.2 640.2 246.3C639.2 245.5 637.0 244.5 636.9 243.6Z M258.3 296.3C258.3 295.0 258.9 292.2 259.4 291.9C260.0 291.5 261.1 293.2 261.6 294.1C262.2 295.0 262.8 296.1 262.7 297.4C262.7 298.7 261.6 301.5 261.1 301.8C260.5 302.2 259.9 300.5 259.4 299.6C259.0 298.7 258.3 297.6 258.3 296.3Z M315.8 276.4C315.8 274.5 316.8 272.7 318.1 270.8C319.3 269.0 321.9 267.0 323.6 265.3C325.2 263.7 327.3 261.6 328.0 260.9C328.7 260.2 324.7 260.9 328.0 260.9C331.3 260.9 344.6 260.9 347.9 260.9C351.2 260.9 347.6 260.0 347.9 260.9C348.3 261.8 349.2 264.9 350.1 266.4C351.1 267.9 352.5 269.0 353.5 269.7C354.4 270.5 355.7 270.7 356.1 270.8C356.5 271.0 356.1 264.6 356.1 270.8C356.1 277.1 356.1 302.2 356.1 308.5C356.1 314.7 356.5 309.4 356.1 308.5C355.7 307.5 354.4 305.1 353.5 302.9C352.5 300.7 351.4 297.6 350.1 295.2C348.8 292.8 347.2 290.1 345.7 288.5C344.2 287.0 343.5 286.3 341.3 285.8C339.1 285.2 335.4 285.2 332.4 285.2C329.5 285.2 326.0 286.3 323.6 285.8C321.2 285.2 319.3 283.5 318.1 281.9C316.8 280.3 315.8 278.2 315.8 276.4Z M425.8 260.9C427.5 261.4 426.5 262.7 426.9 264.2C427.3 265.7 427.9 268.3 428.0 269.7C428.1 271.2 428.0 273.1 427.5 273.1C426.9 273.1 425.9 271.2 424.7 269.7C423.5 268.3 421.6 265.7 420.3 264.2C419.0 262.7 416.0 261.4 416.9 260.9C417.9 260.3 424.1 260.3 425.8 260.9Z M353.9 272.0C354.8 265.9 357.2 273.6 359.4 274.2C361.6 274.7 364.6 274.7 367.2 275.3C369.7 275.8 372.8 276.6 374.9 277.5C377.0 278.4 378.6 279.1 379.9 280.8C381.2 282.5 382.0 285.0 382.7 287.4C383.3 289.8 383.8 292.6 384.0 295.2C384.1 297.8 384.3 300.5 383.5 302.9C382.8 305.3 381.1 307.7 379.3 309.6C377.5 311.4 374.9 312.8 372.7 314.0C370.5 315.2 368.1 316.3 366.1 316.8C364.0 317.2 362.2 317.6 360.5 316.8C358.9 315.9 357.2 312.8 356.1 311.8C355.0 310.8 354.3 317.3 353.9 310.7C353.5 304.0 353.0 278.0 353.9 272.0Z M428.0 275.3C428.5 274.4 429.9 273.2 431.3 273.1C432.8 272.9 435.2 273.2 436.9 274.2C438.5 275.1 440.0 276.9 441.3 278.6C442.6 280.3 443.5 282.5 444.6 284.1C445.7 285.8 447.2 287.1 447.9 288.5C448.7 290.0 449.4 292.4 449.0 293.0C448.7 293.5 446.8 292.8 445.7 291.9C444.6 290.9 443.2 288.9 442.4 287.4C441.6 286.0 441.8 283.7 440.7 283.0C439.6 282.4 437.3 283.9 435.8 283.6C434.2 283.2 432.5 281.6 431.3 280.8C430.1 280.0 429.1 279.5 428.6 278.6C428.0 277.7 427.5 276.2 428.0 275.3Z M426.9 300.7C427.3 299.8 428.9 297.6 430.2 297.4C431.5 297.2 433.4 299.1 434.6 299.6C435.9 300.2 437.0 300.9 438.0 300.7C438.9 300.5 439.4 298.1 440.2 298.5C440.9 298.9 441.3 301.5 442.4 302.9C443.5 304.4 445.3 306.1 446.8 307.4C448.3 308.6 450.3 309.6 451.2 310.7C452.2 311.8 453.1 313.4 452.3 314.0C451.6 314.5 449.0 314.0 446.8 314.0C444.6 314.0 441.1 314.5 439.1 314.0C437.0 313.4 435.9 312.0 434.6 310.7C433.4 309.4 432.4 307.5 431.3 306.2C430.2 305.0 428.7 303.9 428.0 302.9C427.3 302.0 426.5 301.6 426.9 300.7Z M450.1 298.5C450.2 297.4 451.3 296.8 451.8 297.4C452.3 298.0 453.0 300.7 452.9 301.8C452.8 302.9 451.7 304.6 451.2 304.0C450.8 303.5 450.0 299.6 450.1 298.5Z M447.9 328.4C448.1 326.9 449.4 326.9 450.1 326.2C450.9 325.4 451.4 324.3 452.3 323.9C453.3 323.6 455.1 322.1 455.7 323.9C456.2 325.8 456.8 333.2 455.7 335.0C454.6 336.9 450.3 336.1 449.0 335.0C447.7 333.9 447.7 329.8 447.9 328.4Z M452.7 295.6C452.7 293.4 452.6 288.2 453.6 285.5C454.5 282.9 456.4 280.8 458.6 279.6C460.8 278.5 464.5 278.7 467.0 278.8C469.5 278.9 471.5 280.8 473.7 280.5C476.0 280.2 478.0 277.7 480.5 277.1C483.0 276.6 486.1 277.3 488.9 277.1C491.7 277.0 495.1 276.3 497.3 276.3C499.5 276.3 501.1 277.8 502.4 277.1C503.6 276.4 503.9 273.6 504.9 272.1C505.9 270.5 507.3 267.9 508.2 267.9C509.2 267.9 510.5 270.2 510.8 272.1C511.0 273.9 510.3 276.3 509.9 278.8C509.5 281.3 508.8 284.1 508.2 287.2C507.7 290.3 507.3 294.5 506.6 297.3C505.9 300.1 505.0 302.8 504.0 304.0C503.1 305.3 501.8 305.7 500.7 304.9C499.5 304.0 498.7 300.1 497.3 299.0C495.9 297.9 493.9 298.0 492.3 298.1C490.6 298.3 489.2 299.7 487.2 299.8C485.2 300.0 482.7 298.8 480.5 299.0C478.2 299.1 476.0 300.4 473.7 300.7C471.5 301.0 469.5 300.8 467.0 300.7C464.5 300.5 460.8 300.1 458.6 299.8C456.4 299.5 454.5 299.7 453.6 299.0C452.6 298.3 452.7 297.9 452.7 295.6Z M512.5 260.9C513.1 261.8 511.1 264.8 510.3 266.4C509.5 268.1 508.3 270.8 507.5 270.8C506.8 270.8 506.0 268.1 505.9 266.4C505.8 264.8 505.9 261.8 507.0 260.9C508.1 260.0 512.0 260.0 512.5 260.9Z M518.1 265.3C518.2 264.5 519.2 263.5 520.3 263.1C521.4 262.7 523.8 262.6 524.7 263.1C525.6 263.7 526.2 265.5 525.8 266.4C525.4 267.3 523.6 268.4 522.5 268.6C521.4 268.9 519.9 268.6 519.2 268.1C518.4 267.5 517.9 266.1 518.1 265.3Z M528.0 267.5C528.2 266.2 529.9 264.4 531.3 263.7C532.8 262.9 535.8 262.8 536.9 263.1C538.0 263.4 538.3 264.3 538.0 265.3C537.6 266.3 535.9 268.2 534.6 269.2C533.4 270.2 531.3 271.7 530.2 271.4C529.1 271.1 527.8 268.8 528.0 267.5Z M504.8 304.0C505.1 301.8 506.5 302.2 507.0 304.0C507.5 305.9 507.5 311.0 507.5 315.1C507.5 319.2 507.3 325.1 507.0 328.4C506.7 331.7 506.4 333.9 505.9 335.0C505.3 336.1 503.9 338.0 503.7 335.0C503.5 332.1 504.6 322.5 504.8 317.3C505.0 312.1 504.4 306.2 504.8 304.0Z M511.4 315.1C511.4 312.7 512.5 310.9 513.6 309.6C514.7 308.3 516.4 307.6 518.1 307.4C519.7 307.1 521.9 307.4 523.6 307.9C525.2 308.5 526.7 309.8 528.0 310.7C529.3 311.5 530.4 313.1 531.3 312.9C532.2 312.7 532.6 309.9 533.5 309.6C534.5 309.2 535.9 309.6 536.9 310.7C537.8 311.8 538.0 314.7 539.1 316.2C540.2 317.7 541.8 318.6 543.5 319.5C545.2 320.4 547.4 320.8 549.0 321.7C550.7 322.7 552.3 324.1 553.5 325.1C554.6 326.0 555.7 326.9 556.1 327.3C556.5 327.6 556.1 326.0 556.1 327.3C556.1 328.6 556.1 333.7 556.1 335.0C556.1 336.3 562.6 335.0 556.1 335.0C549.6 335.0 523.5 335.0 516.9 335.0C510.4 335.0 517.5 336.9 516.9 335.0C516.4 333.2 514.6 327.3 513.6 323.9C512.7 320.6 511.4 317.5 511.4 315.1Z M641.3 306.2C641.1 305.3 642.2 305.4 643.5 305.1C644.8 304.9 648.1 303.5 649.0 304.6C649.9 305.7 649.8 310.8 649.0 311.8C648.3 312.8 645.9 311.6 644.6 310.7C643.3 309.8 641.5 307.2 641.3 306.2Z M553.9 321.7C554.4 320.3 556.0 322.1 556.7 322.8C557.3 323.6 557.9 324.9 557.8 326.2C557.7 327.4 556.8 329.7 556.1 330.6C555.5 331.5 554.3 333.2 553.9 331.7C553.5 330.2 553.4 323.2 553.9 321.7Z M256.1 385.5C257.0 384.2 259.6 385.2 261.6 385.3C263.7 385.4 266.1 385.9 268.3 386.1C270.5 386.2 272.7 385.9 274.9 386.1C277.1 386.3 279.7 386.5 281.5 387.2C283.4 387.8 285.1 388.9 286.0 389.9C286.9 391.0 286.9 392.7 287.1 393.3C287.3 393.8 292.2 393.3 287.1 393.3C281.9 393.3 261.3 393.3 256.1 393.3C250.9 393.3 256.1 394.6 256.1 393.3C256.1 392.0 255.2 386.8 256.1 385.5Z M398.7 354.5C398.7 353.5 399.3 352.2 400.4 351.2C401.4 350.3 403.1 349.7 404.8 349.0C406.4 348.4 408.8 348.2 410.3 347.4C411.8 346.5 412.5 345.1 413.6 344.0C414.7 343.0 415.8 341.6 416.9 341.3C418.1 341.0 419.2 341.6 420.3 342.4C421.4 343.1 422.3 344.8 423.6 345.7C424.9 346.6 426.6 347.2 428.0 347.9C429.4 348.6 431.1 349.2 431.9 350.1C432.7 351.0 433.3 352.4 433.0 353.4C432.7 354.5 431.8 355.4 430.2 356.2C428.7 357.0 425.8 358.0 423.6 358.4C421.4 358.9 419.2 358.7 416.9 359.0C414.7 359.2 412.3 360.1 410.3 360.1C408.3 360.1 406.4 359.4 404.8 359.0C403.1 358.5 401.4 358.1 400.4 357.3C399.3 356.6 398.7 355.6 398.7 354.5Z M447.9 375.6C448.1 374.8 449.5 376.5 450.1 377.8C450.8 379.1 451.6 382.0 451.8 383.3C452.0 384.6 451.7 385.7 451.2 385.5C450.8 385.3 449.6 383.9 449.0 382.2C448.5 380.5 447.7 376.3 447.9 375.6Z M448.5 328.6C449.0 327.8 451.2 327.8 451.8 328.6C452.4 329.3 452.6 332.2 452.1 333.0C451.6 333.7 449.4 333.7 448.8 333.0C448.2 332.2 448.0 329.3 448.5 328.6Z M452.3 333.0C452.6 332.5 453.7 332.5 454.0 333.0C454.3 333.4 454.3 335.3 454.0 335.7C453.7 336.2 452.6 336.2 452.3 335.7C452.1 335.3 452.1 333.4 452.3 333.0Z M473.8 336.8C474.3 335.9 475.6 334.3 477.1 333.5C478.6 332.8 481.4 332.1 482.7 332.4C483.9 332.8 483.9 334.5 484.9 335.7C485.8 337.0 487.1 339.2 488.2 340.2C489.3 341.1 490.4 341.6 491.5 341.3C492.6 340.9 493.5 338.3 494.8 338.0C496.1 337.6 498.3 337.4 499.2 339.1C500.2 340.7 500.4 345.1 500.4 347.9C500.4 350.7 500.0 354.0 499.2 355.7C498.5 357.3 497.2 357.3 495.9 357.9C494.6 358.4 493.0 358.4 491.5 359.0C490.0 359.5 488.6 360.4 487.1 361.2C485.6 361.9 483.7 363.6 482.7 363.4C481.6 363.2 481.0 361.4 481.0 360.1C481.0 358.8 481.6 356.8 482.7 355.7C483.7 354.5 486.2 354.7 487.1 353.4C488.0 352.2 488.4 349.6 488.2 347.9C488.0 346.3 487.1 344.4 486.0 343.5C484.9 342.6 483.0 342.7 481.5 342.4C480.1 342.0 478.3 341.8 477.1 341.3C475.9 340.7 474.9 339.8 474.4 339.1C473.8 338.3 473.3 337.8 473.8 336.8Z M453.9 330.2C454.4 329.8 456.4 330.7 457.2 331.3C458.0 332.0 459.1 333.5 458.9 334.1C458.7 334.6 456.9 334.7 456.1 334.6C455.3 334.5 454.3 334.3 453.9 333.5C453.5 332.8 453.3 330.6 453.9 330.2Z M525.8 367.3C526.2 366.7 527.6 366.7 528.0 367.3C528.4 367.8 528.4 370.0 528.0 370.6C527.6 371.1 526.2 371.1 525.8 370.6C525.4 370.0 525.4 367.8 525.8 367.3Z M556.1 326.9C562.4 328.2 555.8 331.7 555.0 334.6C554.2 337.6 552.4 342.2 551.2 344.6C550.1 347.0 549.2 348.6 547.9 349.0C546.6 349.5 545.3 348.3 543.5 347.4C541.7 346.4 539.1 344.5 536.9 343.5C534.6 342.5 532.4 342.0 530.2 341.3C528.0 340.5 525.6 340.4 523.6 339.1C521.6 337.8 519.2 335.6 518.1 333.5C516.9 331.5 510.6 328.0 516.9 326.9C523.3 325.8 549.8 325.6 556.1 326.9Z M552.3 354.5C552.6 353.2 554.4 352.2 555.0 351.8C555.6 351.3 555.9 350.2 556.1 351.8C556.3 353.4 556.5 359.8 556.1 361.2C555.7 362.6 554.1 361.2 553.5 360.1C552.8 359.0 552.1 355.9 552.3 354.5Z M505.3 344.6C506.2 341.6 508.5 337.4 509.8 336.8C511.0 336.3 512.2 339.1 513.1 341.3C514.0 343.5 514.6 347.2 515.3 350.1C515.9 353.1 516.1 355.8 516.9 359.0C517.8 362.1 519.2 365.8 520.3 368.9C521.4 372.1 522.8 375.2 523.6 377.8C524.4 380.4 525.1 382.4 525.2 384.4C525.4 386.4 525.7 389.4 524.7 389.9C523.7 390.5 521.0 389.2 519.2 387.7C517.3 386.3 515.3 383.5 513.6 381.1C512.0 378.7 510.5 376.1 509.2 373.4C507.9 370.6 506.6 367.6 505.9 364.5C505.1 361.4 504.9 357.9 504.8 354.5C504.7 351.2 504.5 347.5 505.3 344.6Z M583.2 384.4C583.4 383.3 584.6 381.9 586.0 381.1C587.4 380.3 589.3 379.6 591.5 379.4C593.7 379.3 596.9 379.8 599.2 380.0C601.6 380.2 603.7 380.6 605.9 380.5C608.1 380.5 609.9 379.8 612.5 379.4C615.1 379.1 618.4 378.5 621.4 378.3C624.3 378.1 627.6 378.2 630.2 378.3C632.8 378.4 634.6 379.0 636.9 378.9C639.1 378.8 641.5 378.1 643.5 377.8C645.5 377.4 648.1 376.0 649.0 376.7C649.9 377.3 650.1 380.9 649.0 381.7C647.9 382.4 644.2 381.1 642.4 381.1C640.5 381.1 639.3 381.1 638.0 381.7C636.7 382.2 635.9 383.4 634.6 384.4C633.4 385.4 631.5 386.7 630.2 387.7C628.9 388.7 628.4 390.3 626.9 390.5C625.4 390.7 623.4 389.3 621.4 388.8C619.3 388.4 616.9 387.8 614.7 387.7C612.5 387.6 610.1 387.7 608.1 388.3C606.1 388.8 604.0 390.2 602.6 391.1C601.1 391.9 600.9 392.9 599.2 393.3C597.6 393.6 594.1 393.8 592.6 393.3C591.1 392.7 591.7 390.9 590.4 389.9C589.1 389.0 586.1 388.7 584.9 387.7C583.7 386.8 583.0 385.5 583.2 384.4Z M553.9 351.8C554.8 349.9 557.8 350.8 559.4 350.1C561.1 349.5 562.8 347.7 563.8 347.9C564.9 348.1 565.3 349.8 565.5 351.2C565.7 352.7 564.9 354.7 565.0 356.8C565.0 358.8 566.2 361.9 566.1 363.4C565.9 364.9 564.8 365.8 563.8 365.6C562.9 365.4 562.2 363.0 560.5 362.3C558.9 361.6 555.0 362.9 553.9 361.2C552.8 359.4 553.0 353.6 553.9 351.8Z M569.4 346.3C569.6 345.1 570.2 342.8 571.0 341.8C571.9 340.8 573.5 340.0 574.4 340.2C575.2 340.4 575.9 341.8 576.0 342.9C576.1 344.0 575.6 345.7 574.9 346.8C574.3 347.9 573.0 349.2 572.1 349.6C571.3 349.9 570.4 349.6 569.9 349.0C569.5 348.5 569.2 347.5 569.4 346.3Z M585.4 344.0C585.4 343.4 586.5 342.2 587.1 342.2C587.6 342.2 588.7 343.4 588.7 344.0C588.7 344.6 587.6 345.7 587.1 345.7C586.5 345.7 585.4 344.6 585.4 344.0Z M577.1 333.0L578.0 333.0L578.0 338.0L577.1 338.0Z M553.9 326.9C554.4 325.8 556.3 326.0 556.7 326.9C557.0 327.8 556.6 331.3 556.1 332.4C555.6 333.5 554.3 334.5 553.9 333.5C553.5 332.6 553.4 328.0 553.9 326.9Z M528.9 268.3C529.2 266.6 530.5 263.5 532.0 261.8C533.6 260.1 536.8 258.3 538.2 257.9C539.7 257.6 540.6 258.3 540.6 259.5C540.6 260.7 539.4 263.1 538.2 264.9C537.1 266.7 534.9 269.2 533.6 270.3C532.3 271.5 531.3 272.2 530.5 271.9C529.7 271.5 528.7 270.0 528.9 268.3Z M511.2 313.4C511.8 311.3 513.5 308.1 515.9 307.1C518.2 306.2 522.9 307.1 525.2 307.9C527.6 308.7 528.6 311.7 529.9 311.8C531.2 312.0 532.0 308.7 533.0 308.7C534.0 308.7 535.3 310.3 536.1 311.8C536.9 313.4 536.1 316.6 537.7 318.1C539.2 319.5 542.9 320.1 545.5 320.4C548.1 320.7 551.3 319.0 553.3 319.6C555.2 320.3 556.9 322.2 557.2 324.3C557.4 326.4 555.7 329.5 554.8 332.1C553.9 334.7 552.8 337.8 551.7 339.9C550.7 342.0 550.2 343.8 548.6 344.6C547.0 345.3 545.0 345.1 542.4 344.6C539.8 344.0 535.9 342.2 533.0 341.4C530.2 340.7 527.6 340.9 525.2 339.9C522.9 338.9 520.7 337.3 519.0 335.2C517.3 333.1 516.2 330.0 515.1 327.4C513.9 324.8 512.6 322.0 512.0 319.6C511.3 317.3 510.5 315.5 511.2 313.4Z"/>
<path fill="#0028ff" d="M280.2 177.0C280.6 175.5 281.8 173.4 283.5 172.3C285.2 171.1 288.2 170.3 290.4 170.0C292.6 169.8 295.0 169.9 296.5 170.7C297.9 171.5 298.9 173.3 299.0 174.8C299.1 176.3 298.3 178.2 297.0 179.8C295.8 181.3 293.6 183.4 291.5 184.2C289.4 185.0 286.1 185.2 284.3 184.8C282.6 184.3 281.7 182.7 281.0 181.4C280.3 180.1 279.8 178.5 280.2 177.0Z M420.3 141.1C420.4 139.9 421.7 140.5 422.5 141.6C423.2 142.7 424.1 145.4 424.7 147.7C425.2 150.0 426.0 154.2 425.8 155.4C425.6 156.6 424.3 156.0 423.6 154.9C422.8 153.8 421.9 151.1 421.4 148.8C420.8 146.5 420.1 142.3 420.3 141.1Z M429.7 130.0C430.0 130.7 429.5 133.8 429.1 134.4C428.7 135.1 427.8 134.6 427.5 133.9C427.1 133.1 426.5 130.6 426.9 130.0C427.3 129.4 429.3 129.3 429.7 130.0Z M419.7 210.9C419.7 209.8 420.0 208.3 420.8 207.6C421.6 207.0 423.1 206.6 424.7 207.1C426.3 207.5 428.7 209.5 430.2 210.4C431.8 211.3 433.4 211.6 434.1 212.6C434.8 213.6 434.9 215.4 434.6 216.5C434.4 217.6 433.5 218.7 432.4 219.2C431.3 219.8 429.5 220.2 428.0 219.8C426.5 219.4 424.8 217.9 423.6 217.0C422.4 216.1 421.5 215.3 420.8 214.3C420.2 213.2 419.7 212.0 419.7 210.9Z M441.8 207.1C441.7 206.0 442.5 205.0 442.9 204.8C443.4 204.7 444.0 205.0 444.6 206.0C445.2 206.9 446.3 208.8 446.8 210.4C447.4 211.9 448.0 214.6 447.9 215.4C447.8 216.1 447.0 215.5 446.3 214.8C445.5 214.1 444.2 212.2 443.5 210.9C442.8 209.6 441.9 208.1 441.8 207.1Z M512.0 266.8C511.6 265.9 512.2 262.7 512.5 261.3C512.9 259.8 513.7 258.1 514.2 257.9C514.6 257.8 515.2 258.7 515.3 260.2C515.4 261.6 515.3 265.7 514.7 266.8C514.2 267.9 512.3 267.7 512.0 266.8Z M519.7 267.3C519.1 267.0 519.5 265.5 520.3 265.1C521.0 264.8 523.5 264.8 524.1 265.1C524.8 265.5 524.9 267.0 524.1 267.3C523.4 267.7 520.4 267.7 519.7 267.3Z M336.0 267.0C336.0 266.5 335.6 267.0 336.0 267.0C336.3 267.0 337.6 267.0 338.0 267.0C338.3 267.0 338.0 266.5 338.0 267.0C338.0 267.5 338.0 269.5 338.0 270.0C338.0 270.5 338.3 270.0 338.0 270.0C337.6 270.0 336.3 270.0 336.0 270.0C335.6 270.0 336.0 270.5 336.0 270.0C336.0 269.5 336.0 267.5 336.0 267.0Z M451.8 289.1L452.9 289.1L452.9 295.2L451.8 295.2Z M452.1 320.1L453.5 320.1L453.2 323.9L452.1 323.9Z M449.9 328.9L451.0 328.9L451.0 331.7L449.9 331.7Z M456.1 293.9C455.5 292.4 456.1 289.0 456.9 287.2C457.8 285.4 459.4 283.8 461.1 283.0C462.8 282.2 464.9 282.0 467.0 282.2C469.1 282.3 471.5 284.1 473.7 283.8C476.0 283.6 478.0 281.0 480.5 280.5C483.0 279.9 486.1 280.6 488.9 280.5C491.7 280.3 495.1 279.6 497.3 279.6C499.5 279.6 501.1 281.2 502.4 280.5C503.6 279.8 504.0 276.8 504.9 275.4C505.7 274.0 506.8 271.8 507.4 272.1C508.0 272.3 508.4 275.2 508.2 277.1C508.1 279.1 507.3 281.6 506.6 283.8C505.9 286.1 504.6 288.3 504.0 290.6C503.5 292.8 503.8 295.6 503.2 297.3C502.6 299.0 501.7 301.0 500.7 300.7C499.7 300.4 498.7 296.6 497.3 295.6C495.9 294.6 493.9 294.6 492.3 294.8C490.6 294.9 489.2 296.3 487.2 296.5C485.2 296.6 482.7 295.5 480.5 295.6C478.2 295.8 476.0 297.0 473.7 297.3C471.5 297.6 469.3 297.4 467.0 297.3C464.8 297.2 462.1 297.0 460.3 296.5C458.5 295.9 456.6 295.5 456.1 293.9Z M515.3 260.9C515.6 261.6 514.7 264.4 514.2 265.3C513.6 266.2 512.2 267.2 512.0 266.4C511.7 265.7 512.0 261.8 512.5 260.9C513.1 260.0 515.0 260.2 515.3 260.9Z M449.9 329.1L451.0 329.1L451.0 331.9L449.9 331.9Z M506.4 344.6C507.1 341.9 508.7 339.0 509.8 338.5C510.8 338.0 511.8 339.9 512.5 341.8C513.3 343.8 513.6 347.3 514.2 350.1C514.7 353.0 515.0 355.8 515.8 359.0C516.7 362.1 518.1 365.8 519.2 368.9C520.3 372.1 521.6 375.2 522.5 377.8C523.3 380.4 524.0 382.7 524.1 384.4C524.3 386.2 524.3 387.9 523.6 388.3C522.8 388.7 521.2 387.8 519.7 386.6C518.2 385.4 516.3 383.3 514.7 381.1C513.2 378.9 511.6 376.1 510.3 373.4C509.0 370.6 507.7 367.6 507.0 364.5C506.3 361.4 506.0 357.9 505.9 354.5C505.8 351.2 505.8 347.3 506.4 344.6Z M489.3 347.9C489.7 346.2 490.7 343.9 491.5 342.4C492.3 340.9 493.6 339.1 494.3 339.1C494.9 339.1 495.3 340.7 495.4 342.4C495.5 344.0 495.4 347.5 494.8 349.0C494.3 350.6 493.0 351.1 492.1 351.8C491.1 352.4 489.8 353.5 489.3 352.9C488.8 352.2 488.9 349.7 489.3 347.9Z M497.0 344.6C497.3 343.9 498.5 343.6 498.7 344.0C498.9 344.5 498.6 346.7 498.4 347.4C498.1 348.0 497.3 348.4 497.0 347.9C496.8 347.5 496.8 345.2 497.0 344.6Z M499.8 336.8C500.5 334.2 502.5 332.9 503.7 331.9C504.9 330.9 506.3 329.6 507.0 330.8C507.6 332.0 507.6 336.2 507.5 339.1C507.5 341.9 507.1 345.0 506.8 347.9C506.4 350.9 506.2 355.2 505.3 356.8C504.4 358.3 502.5 358.5 501.5 357.0C500.4 355.5 499.5 351.3 499.2 347.9C499.0 344.6 499.1 339.5 499.8 336.8Z M513.1 313.4C513.4 311.7 515.4 310.0 517.4 309.5C519.4 309.0 523.4 309.1 525.2 310.3C527.0 311.4 527.3 314.8 528.3 316.5C529.4 318.2 529.9 319.5 531.4 320.4C533.0 321.3 535.6 321.2 537.7 322.0C539.8 322.7 542.0 323.9 543.9 325.1C545.9 326.2 548.5 327.2 549.4 329.0C550.3 330.8 549.9 334.0 549.4 336.0C548.9 337.9 548.0 340.0 546.3 340.7C544.6 341.4 541.5 340.7 539.2 340.2C537.0 339.7 535.1 338.1 533.0 337.6C530.9 337.0 528.6 337.6 526.8 336.8C525.0 336.0 523.4 334.6 522.1 332.9C520.7 331.2 519.8 328.8 518.7 326.6C517.5 324.4 516.0 321.8 515.1 319.6C514.1 317.4 512.7 315.1 513.1 313.4Z"/>
<path fill="#0000a8" d="M423.0 212.6C423.1 212.0 423.9 210.8 424.7 210.9C425.5 211.0 427.3 212.4 428.0 213.1C428.7 213.9 429.3 214.9 429.1 215.4C428.9 215.8 427.7 216.1 426.9 215.9C426.1 215.7 424.8 214.8 424.1 214.3C423.5 213.7 422.9 213.1 423.0 212.6Z M462.8 288.9C463.0 287.8 463.7 285.9 464.5 285.5C465.3 285.1 467.1 285.7 467.9 286.4C468.6 287.1 469.2 288.7 469.0 289.7C468.9 290.8 467.9 292.2 467.0 292.6C466.1 293.0 464.4 292.5 463.7 291.9C463.0 291.3 462.7 290.0 462.8 288.9Z M477.1 288.9C477.4 287.5 478.0 285.0 479.6 283.8C481.3 282.7 484.7 282.7 487.2 282.2C489.7 281.6 492.4 280.5 494.8 280.5C497.2 280.5 500.1 281.2 501.5 282.2C502.9 283.1 503.2 284.8 503.2 286.4C503.2 287.9 502.6 290.3 501.5 291.4C500.4 292.5 498.6 292.5 496.5 293.1C494.4 293.7 491.3 294.6 488.9 294.8C486.5 294.9 484.0 294.4 482.2 293.9C480.3 293.5 478.8 292.8 478.0 291.9C477.1 291.1 476.8 290.2 477.1 288.9Z M507.5 304.6C507.9 303.1 509.1 302.7 509.4 304.0C509.8 305.4 509.8 309.9 509.8 312.9C509.7 315.8 509.5 320.3 509.2 321.7C508.9 323.2 508.2 323.2 507.9 321.7C507.5 320.3 507.3 315.7 507.2 312.9C507.2 310.0 507.2 306.1 507.5 304.6Z M500.9 336.8C501.5 334.4 502.8 333.8 503.7 333.0C504.6 332.1 505.9 330.9 506.4 331.9C507.0 332.9 506.8 336.4 506.8 339.1C506.7 341.7 506.4 345.1 506.1 347.9C505.8 350.7 505.5 354.3 504.8 355.7C504.1 357.0 502.8 357.5 502.0 356.2C501.3 354.9 500.5 351.1 500.4 347.9C500.2 344.7 500.4 339.3 500.9 336.8Z M507.5 344.6C508.0 342.2 509.0 340.5 509.8 340.2C510.5 339.8 511.4 340.7 512.0 342.4C512.5 344.0 512.7 347.4 513.1 350.1C513.4 352.9 513.5 356.2 514.2 359.0C514.8 361.7 515.9 364.1 516.9 366.7C518.0 369.3 519.3 372.1 520.3 374.5C521.2 376.9 522.0 379.1 522.5 381.1C522.9 383.1 523.4 385.9 523.0 386.6C522.7 387.4 521.5 386.6 520.3 385.5C519.1 384.4 517.3 382.2 515.8 380.0C514.4 377.8 512.7 374.8 511.4 372.2C510.1 369.7 508.8 367.5 508.1 364.5C507.4 361.6 507.1 357.9 507.0 354.5C506.9 351.2 507.1 347.0 507.5 344.6Z M514.6 313.4C514.9 312.0 517.3 311.2 519.0 311.0C520.6 310.9 523.1 311.4 524.4 312.6C525.7 313.8 525.9 316.5 526.8 318.1C527.7 319.6 528.6 321.1 529.9 322.0C531.2 322.9 533.1 322.6 534.6 323.5C536.0 324.4 537.7 326.0 538.5 327.4C539.2 328.8 539.9 330.8 539.2 332.1C538.6 333.4 536.4 334.8 534.6 335.2C532.7 335.6 530.2 335.1 528.3 334.4C526.5 333.8 525.0 332.7 523.7 331.3C522.4 329.9 521.6 327.8 520.5 325.9C519.5 323.9 518.4 321.7 517.4 319.6C516.4 317.5 514.4 314.8 514.6 313.4Z"/>
<path fill="#00ff50" d="M519.7 265.5C519.6 265.1 520.7 264.6 521.4 264.4C522.1 264.3 523.3 264.4 523.8 264.8C524.3 265.1 524.5 266.0 524.1 266.4C523.8 266.8 522.7 267.5 521.9 267.3C521.2 267.2 519.8 266.0 519.7 265.5Z"/>
<path fill="#00ff50" d="M531.3 267.0C531.3 266.5 533.3 265.1 534.1 264.8C534.9 264.5 536.3 264.6 536.3 265.1C536.3 265.6 534.9 267.2 534.1 267.5C533.3 267.8 531.3 267.4 531.3 267.0Z"/>
</g>
<g fill="#000" shape-rendering="crispEdges"><rect x="271" y="132" width="1" height="4"/><rect x="271" y="387" width="1" height="4"/><rect x="286" y="132" width="1" height="4"/><rect x="286" y="387" width="1" height="4"/><rect x="302" y="132" width="1" height="4"/><rect x="302" y="387" width="1" height="4"/><rect x="317" y="132" width="1" height="4"/><rect x="317" y="387" width="1" height="4"/><rect x="331" y="132" width="2" height="9"/><rect x="331" y="382" width="2" height="9"/><rect x="348" y="132" width="1" height="4"/><rect x="348" y="387" width="1" height="4"/><rect x="363" y="132" width="1" height="4"/><rect x="363" y="387" width="1" height="4"/><rect x="378" y="132" width="1" height="4"/><rect x="378" y="387" width="1" height="4"/><rect x="394" y="132" width="1" height="4"/><rect x="394" y="387" width="1" height="4"/><rect x="408" y="132" width="2" height="9"/><rect x="408" y="382" width="2" height="9"/><rect x="424" y="132" width="1" height="4"/><rect x="424" y="387" width="1" height="4"/><rect x="440" y="132" width="1" height="4"/><rect x="440" y="387" width="1" height="4"/><rect x="455" y="132" width="1" height="4"/><rect x="455" y="387" width="1" height="4"/><rect x="470" y="132" width="1" height="4"/><rect x="470" y="387" width="1" height="4"/><rect x="485" y="132" width="2" height="9"/><rect x="485" y="382" width="2" height="9"/><rect x="501" y="132" width="1" height="4"/><rect x="501" y="387" width="1" height="4"/><rect x="516" y="132" width="1" height="4"/><rect x="516" y="387" width="1" height="4"/><rect x="532" y="132" width="1" height="4"/><rect x="532" y="387" width="1" height="4"/><rect x="547" y="132" width="1" height="4"/><rect x="547" y="387" width="1" height="4"/><rect x="561" y="132" width="2" height="9"/><rect x="561" y="382" width="2" height="9"/><rect x="578" y="132" width="1" height="4"/><rect x="578" y="387" width="1" height="4"/><rect x="593" y="132" width="1" height="4"/><rect x="593" y="387" width="1" height="4"/><rect x="609" y="132" width="1" height="4"/><rect x="609" y="387" width="1" height="4"/><rect x="624" y="132" width="1" height="4"/><rect x="624" y="387" width="1" height="4"/><rect x="638" y="132" width="2" height="9"/><rect x="638" y="382" width="2" height="9"/><rect x="257" y="376" width="4" height="1"/><rect x="643" y="376" width="4" height="1"/><rect x="257" y="358" width="4" height="1"/><rect x="643" y="358" width="4" height="1"/><rect x="257" y="341" width="4" height="1"/><rect x="643" y="341" width="4" height="1"/><rect x="257" y="323" width="4" height="1"/><rect x="643" y="323" width="4" height="1"/><rect x="257" y="305" width="9" height="2"/><rect x="638" y="305" width="9" height="2"/><rect x="257" y="288" width="4" height="1"/><rect x="643" y="288" width="4" height="1"/><rect x="257" y="270" width="4" height="1"/><rect x="643" y="270" width="4" height="1"/><rect x="257" y="253" width="4" height="1"/><rect x="643" y="253" width="4" height="1"/><rect x="257" y="235" width="4" height="1"/><rect x="643" y="235" width="4" height="1"/><rect x="257" y="216" width="9" height="2"/><rect x="638" y="216" width="9" height="2"/><rect x="257" y="200" width="4" height="1"/><rect x="643" y="200" width="4" height="1"/><rect x="257" y="182" width="4" height="1"/><rect x="643" y="182" width="4" height="1"/><rect x="257" y="164" width="4" height="1"/><rect x="643" y="164" width="4" height="1"/><rect x="257" y="147" width="4" height="1"/><rect x="643" y="147" width="4" height="1"/></g>
<rect x="256" y="131" width="392" height="261" fill="none" stroke="#000" stroke-width="2" shape-rendering="crispEdges"/>
<rect x="664" y="195.8" width="13" height="18.7" fill="#ffb8b8"/><rect x="664" y="214.5" width="13" height="18.9" fill="#ff7878"/><rect x="664" y="233.4" width="13" height="18.3" fill="#ff1414"/><rect x="664" y="251.7" width="13" height="19.3" fill="#ff6400"/><rect x="664" y="271.0" width="13" height="6.1" fill="#ff9600"/><rect x="664" y="277.1" width="13" height="6.0" fill="#ffc800"/><rect x="664" y="283.1" width="13" height="6.4" fill="#f0ff00"/><rect x="664" y="289.5" width="13" height="6.5" fill="#00ff50"/><rect x="664" y="296.0" width="13" height="6.0" fill="#00f0ff"/><rect x="664" y="302.0" width="13" height="6.2" fill="#0028ff"/><rect x="664" y="308.2" width="13" height="18.1" fill="#0000a8"/><rect x="664" y="326.3" width="13" height="18.7" fill="#7000b0"/><rect x="664" y="345.0" width="13" height="18.0" fill="#c000b0"/><rect x="664" y="363.0" width="13" height="28.6" fill="#f000b0"/><path d="M664 195.8 L670.5 167 L677 195.8 Z" fill="#ffdcdc" stroke="#000" stroke-width="1.6" stroke-linejoin="miter"/><path d="M664 195.8 h13" stroke="#000" stroke-width="1.3"/><path d="M664 214.5 h13" stroke="#000" stroke-width="1.3"/><path d="M664 233.4 h13" stroke="#000" stroke-width="1.3"/><path d="M664 251.7 h13" stroke="#000" stroke-width="1.3"/><path d="M664 271.0 h13" stroke="#000" stroke-width="1.3"/><path d="M664 277.1 h13" stroke="#000" stroke-width="1.0"/><path d="M664 283.1 h13" stroke="#000" stroke-width="1.0"/><path d="M664 289.5 h13" stroke="#000" stroke-width="1.0"/><path d="M664 296.0 h13" stroke="#000" stroke-width="1.0"/><path d="M664 302.0 h13" stroke="#000" stroke-width="1.0"/><path d="M664 308.2 h13" stroke="#000" stroke-width="1.0"/><path d="M664 326.3 h13" stroke="#000" stroke-width="1.0"/><path d="M664 345.0 h13" stroke="#000" stroke-width="1.0"/><path d="M664 363.0 h13" stroke="#000" stroke-width="1.0"/><rect x="664" y="195.8" width="13.3" height="195.8" fill="none" stroke="#000" stroke-width="1.8"/>
<text class="thin" font-size="27" stroke-width=".6" y="84.4" x="351.39 367.26 385.00 404.10 421.50 435.00 443.58 459.11 475.80 484.41 503.11 519.20 527.77 537.83">zonal velocity</text>
<text class="thin" font-size="23.2" stroke-width=".55" y="468.5" x="371.57 387.24 407.28 421.15 435.60 449.79 459.83 474.14 480.17 495.09 508.99 518.45">X−coordinate</text>
<text class="thin" font-size="23.2" stroke-width=".55" transform="translate(218.4 339.6) rotate(-90)" y="0" x="-1.94 13.74 33.78 47.65 62.10 76.29 86.33 100.64 106.67 121.59 135.49 144.95">Z−coordinate</text>
<text class="thin" font-size="15.6" stroke-width=".4" transform="scale(1.170 1)" y="142.6" x="559.61 564.87 577.77 586.27 595.34 604.31 613.54 621.34 630.00">t=72000 s</text>
<text class="reg" font-size="17.5" y="108.3"><tspan x="164.32">(</tspan><tspan font-size="21.4" x="171.91" y="110.4">×</tspan><tspan x="184.84 195.70 208.61 220.61 228.52 246.19" y="108.3">1E4 m)</tspan></text>
<text class="reg" font-size="17.5" y="437.5"><tspan x="567.22">(</tspan><tspan font-size="21.4" x="574.81" y="439.6">×</tspan><tspan x="587.74 598.60 611.51 623.51 631.42 649.09" y="437.5">1E5 m)</tspan></text>
<text class="reg" font-size="18" transform="scale(1.15 1)" y="414.4" x="288.87" text-anchor="middle">1</text>
<text class="reg" font-size="18" transform="scale(1.15 1)" y="414.4" x="355.61" text-anchor="middle">2</text>
<text class="reg" font-size="18" transform="scale(1.15 1)" y="414.4" x="422.35" text-anchor="middle">3</text>
<text class="reg" font-size="18" transform="scale(1.15 1)" y="414.4" x="489.09" text-anchor="middle">4</text>
<text class="reg" font-size="18" transform="scale(1.15 1)" y="414.4" x="555.83" text-anchor="middle">5</text>
<text class="reg" font-size="18" transform="scale(1.15 1)" y="223.7" x="208.96" text-anchor="middle">2</text>
<text class="reg" font-size="18" transform="scale(1.15 1)" y="311.5" x="208.78" text-anchor="middle">1</text>
<text class="reg" font-size="17.2" y="201.7" x="686.6">15.1</text>
<text class="reg" font-size="17.2" y="257.6" x="686.6">6</text>
<text class="reg" font-size="17.2" y="289.0" x="686.6">1</text>
<text class="reg" font-size="17.2" y="307.6" x="686.6">−2</text>
<text class="reg" font-size="17.2" y="351.0" x="686.6">−9</text>
</svg>
</body></html>
